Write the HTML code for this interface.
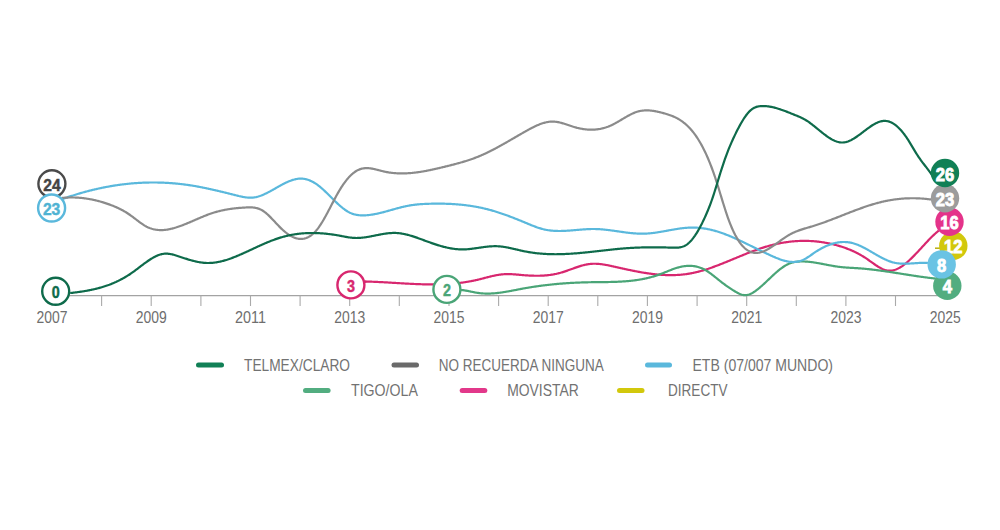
<!DOCTYPE html>
<html><head><meta charset="utf-8"><style>
html,body{margin:0;padding:0;background:#fff;width:1000px;height:530px;overflow:hidden}
svg{display:block}
.ln{fill:none;stroke-width:2.2;stroke-linecap:round;stroke-linejoin:round}
.yr{font-family:"Liberation Sans",sans-serif;font-size:16.8px;fill:#6e6e6e}
.lg{font-family:"Liberation Sans",sans-serif;font-size:16.4px;fill:#727272}
.lf{font-size:18px!important}
.lo{stroke-width:0.45px!important}
.lb{font-family:"Liberation Sans",sans-serif;font-size:17px;font-weight:bold;stroke-width:0.9px;paint-order:stroke}
</style></head><body>
<svg width="1000" height="530" viewBox="0 0 1000 530">
<line x1="52" y1="295.6" x2="944" y2="295.6" stroke="#a3a3a3" stroke-width="1.3"/>
<line x1="52.0" y1="295.6" x2="52.0" y2="306" stroke="#aaaaaa" stroke-width="1.1"/>
<line x1="101.6" y1="295.6" x2="101.6" y2="306" stroke="#aaaaaa" stroke-width="1.1"/>
<line x1="151.2" y1="295.6" x2="151.2" y2="306" stroke="#aaaaaa" stroke-width="1.1"/>
<line x1="200.9" y1="295.6" x2="200.9" y2="306" stroke="#aaaaaa" stroke-width="1.1"/>
<line x1="250.5" y1="295.6" x2="250.5" y2="306" stroke="#aaaaaa" stroke-width="1.1"/>
<line x1="300.1" y1="295.6" x2="300.1" y2="306" stroke="#aaaaaa" stroke-width="1.1"/>
<line x1="349.7" y1="295.6" x2="349.7" y2="306" stroke="#aaaaaa" stroke-width="1.1"/>
<line x1="399.3" y1="295.6" x2="399.3" y2="306" stroke="#aaaaaa" stroke-width="1.1"/>
<line x1="449.0" y1="295.6" x2="449.0" y2="306" stroke="#aaaaaa" stroke-width="1.1"/>
<line x1="498.6" y1="295.6" x2="498.6" y2="306" stroke="#aaaaaa" stroke-width="1.1"/>
<line x1="548.2" y1="295.6" x2="548.2" y2="306" stroke="#aaaaaa" stroke-width="1.1"/>
<line x1="597.8" y1="295.6" x2="597.8" y2="306" stroke="#aaaaaa" stroke-width="1.1"/>
<line x1="647.4" y1="295.6" x2="647.4" y2="306" stroke="#aaaaaa" stroke-width="1.1"/>
<line x1="697.1" y1="295.6" x2="697.1" y2="306" stroke="#aaaaaa" stroke-width="1.1"/>
<line x1="746.7" y1="295.6" x2="746.7" y2="306" stroke="#aaaaaa" stroke-width="1.1"/>
<line x1="796.3" y1="295.6" x2="796.3" y2="306" stroke="#aaaaaa" stroke-width="1.1"/>
<line x1="845.9" y1="295.6" x2="845.9" y2="306" stroke="#aaaaaa" stroke-width="1.1"/>
<line x1="895.5" y1="295.6" x2="895.5" y2="306" stroke="#aaaaaa" stroke-width="1.1"/>
<text x="52.0" y="322.6" text-anchor="middle" class="yr" textLength="31" lengthAdjust="spacingAndGlyphs">2007</text>
<text x="151.2" y="322.6" text-anchor="middle" class="yr" textLength="31" lengthAdjust="spacingAndGlyphs">2009</text>
<text x="250.5" y="322.6" text-anchor="middle" class="yr" textLength="31" lengthAdjust="spacingAndGlyphs">2011</text>
<text x="349.7" y="322.6" text-anchor="middle" class="yr" textLength="31" lengthAdjust="spacingAndGlyphs">2013</text>
<text x="449.0" y="322.6" text-anchor="middle" class="yr" textLength="31" lengthAdjust="spacingAndGlyphs">2015</text>
<text x="548.2" y="322.6" text-anchor="middle" class="yr" textLength="31" lengthAdjust="spacingAndGlyphs">2017</text>
<text x="647.4" y="322.6" text-anchor="middle" class="yr" textLength="31" lengthAdjust="spacingAndGlyphs">2019</text>
<text x="746.7" y="322.6" text-anchor="middle" class="yr" textLength="31" lengthAdjust="spacingAndGlyphs">2021</text>
<text x="845.9" y="322.6" text-anchor="middle" class="yr" textLength="31" lengthAdjust="spacingAndGlyphs">2023</text>
<text x="945.2" y="322.6" text-anchor="middle" class="yr" textLength="31" lengthAdjust="spacingAndGlyphs">2025</text>
<path d="M351.0 284.0 L365.6 281.6" stroke="#d8276f" class="ln"/>
<path d="M365.60 281.54 L366.35 281.55 L367.10 281.57 L367.85 281.59 L368.60 281.61 L369.35 281.63 L370.10 281.66 L370.85 281.68 L371.60 281.71 L372.35 281.74 L373.10 281.77 L373.85 281.80 L374.60 281.83 L375.35 281.86 L376.10 281.89 L376.85 281.92 L377.60 281.96 L378.35 281.99 L379.10 282.03 L379.85 282.07 L380.60 282.10 L381.35 282.14 L382.10 282.18 L382.85 282.22 L383.60 282.26 L384.35 282.30 L385.10 282.34 L385.85 282.39 L386.60 282.43 L387.35 282.47 L388.10 282.51 L388.85 282.56 L389.60 282.60 L390.35 282.65 L391.10 282.69 L391.85 282.73 L392.60 282.78 L393.35 282.82 L394.10 282.87 L394.85 282.91 L395.60 282.96 L396.35 283.00 L397.10 283.05 L397.85 283.09 L398.60 283.14 L399.35 283.18 L400.10 283.23 L400.85 283.27 L401.60 283.32 L402.35 283.36 L403.10 283.40 L403.85 283.45 L404.60 283.49 L405.35 283.53 L406.10 283.57 L406.85 283.61 L407.60 283.65 L408.35 283.69 L409.10 283.73 L409.85 283.77 L410.60 283.81 L411.35 283.85 L412.10 283.88 L412.85 283.92 L413.60 283.95 L414.35 283.99 L415.10 284.02 L415.85 284.05 L416.60 284.08 L417.35 284.11 L418.10 284.14 L418.85 284.17 L419.60 284.19 L420.35 284.22 L421.10 284.24 L421.85 284.26 L422.60 284.28 L423.35 284.30 L424.10 284.32 L424.85 284.34 L425.60 284.36 L426.35 284.37 L427.10 284.38 L427.85 284.39 L428.60 284.40 L429.35 284.41 L430.10 284.42 L430.85 284.42 L431.60 284.42 L432.35 284.43 L433.10 284.42 L433.85 284.42 L434.60 284.42 L435.35 284.41 L436.10 284.40 L436.85 284.39 L437.60 284.38 L438.35 284.36 L439.10 284.35 L439.85 284.33 L440.60 284.31 L441.35 284.28 L442.10 284.26 L442.85 284.23 L443.60 284.20 L444.35 284.17 L445.10 284.13 L445.85 284.09 L446.60 284.05 L447.35 284.01 L448.10 283.97 L448.85 283.92 L449.60 283.87 L450.35 283.82 L451.10 283.76 L451.85 283.70 L452.60 283.64 L453.35 283.58 L454.10 283.51 L454.85 283.44 L455.60 283.37 L456.35 283.29 L457.10 283.21 L457.85 283.13 L458.60 283.05 L459.35 282.96 L460.10 282.87 L460.85 282.77 L461.60 282.68 L462.35 282.58 L463.10 282.47 L463.85 282.36 L464.60 282.25 L465.35 282.14 L466.10 282.02 L466.85 281.90 L467.60 281.78 L468.35 281.65 L469.10 281.52 L469.85 281.38 L470.60 281.24 L471.35 281.10 L472.10 280.95 L472.85 280.80 L473.60 280.65 L474.35 280.49 L475.10 280.33 L475.85 280.16 L476.60 279.99 L477.35 279.82 L478.10 279.64 L478.85 279.46 L479.60 279.28 L480.35 279.09 L481.10 278.90 L481.85 278.71 L482.60 278.51 L483.35 278.32 L484.10 278.12 L484.85 277.93 L485.60 277.73 L486.35 277.54 L487.10 277.34 L487.85 277.15 L488.60 276.96 L489.35 276.77 L490.10 276.59 L490.85 276.40 L491.60 276.23 L492.35 276.05 L493.10 275.88 L493.85 275.72 L494.60 275.56 L495.35 275.41 L496.10 275.26 L496.85 275.12 L497.60 274.99 L498.35 274.86 L499.10 274.75 L499.85 274.64 L500.60 274.54 L501.35 274.45 L502.10 274.37 L502.85 274.30 L503.60 274.24 L504.35 274.20 L505.10 274.16 L505.85 274.13 L506.60 274.12 L507.35 274.11 L508.10 274.11 L508.85 274.12 L509.60 274.13 L510.35 274.16 L511.10 274.19 L511.85 274.22 L512.60 274.26 L513.35 274.31 L514.10 274.36 L514.85 274.41 L515.60 274.47 L516.35 274.53 L517.10 274.59 L517.85 274.66 L518.60 274.72 L519.35 274.79 L520.10 274.85 L520.85 274.92 L521.60 274.99 L522.35 275.05 L523.10 275.11 L523.85 275.18 L524.60 275.23 L525.35 275.29 L526.10 275.34 L526.85 275.40 L527.60 275.44 L528.35 275.49 L529.10 275.53 L529.85 275.57 L530.60 275.61 L531.35 275.64 L532.10 275.67 L532.85 275.69 L533.60 275.71 L534.35 275.73 L535.10 275.74 L535.85 275.75 L536.60 275.76 L537.35 275.76 L538.10 275.75 L538.85 275.74 L539.60 275.73 L540.35 275.71 L541.10 275.68 L541.85 275.65 L542.60 275.61 L543.35 275.57 L544.10 275.53 L544.85 275.47 L545.60 275.41 L546.35 275.35 L547.10 275.28 L547.85 275.20 L548.60 275.12 L549.35 275.02 L550.10 274.93 L550.85 274.82 L551.60 274.71 L552.35 274.59 L553.10 274.47 L553.85 274.33 L554.60 274.19 L555.35 274.04 L556.10 273.89 L556.85 273.72 L557.60 273.55 L558.35 273.37 L559.10 273.18 L559.85 272.98 L560.60 272.77 L561.35 272.56 L562.10 272.34 L562.85 272.11 L563.60 271.87 L564.35 271.62 L565.10 271.37 L565.85 271.12 L566.60 270.86 L567.35 270.60 L568.10 270.33 L568.85 270.06 L569.60 269.79 L570.35 269.52 L571.10 269.24 L571.85 268.97 L572.60 268.70 L573.35 268.42 L574.10 268.15 L574.85 267.89 L575.60 267.62 L576.35 267.36 L577.10 267.10 L577.85 266.85 L578.60 266.60 L579.35 266.36 L580.10 266.13 L580.85 265.90 L581.60 265.68 L582.35 265.47 L583.10 265.27 L583.85 265.08 L584.60 264.90 L585.35 264.73 L586.10 264.57 L586.85 264.43 L587.60 264.30 L588.35 264.18 L589.10 264.07 L589.85 263.98 L590.60 263.91 L591.35 263.85 L592.10 263.80 L592.85 263.77 L593.60 263.75 L594.35 263.74 L595.10 263.74 L595.85 263.76 L596.60 263.79 L597.35 263.83 L598.10 263.87 L598.85 263.93 L599.60 264.00 L600.35 264.08 L601.10 264.17 L601.85 264.26 L602.60 264.36 L603.35 264.47 L604.10 264.59 L604.85 264.72 L605.60 264.85 L606.35 264.98 L607.10 265.12 L607.85 265.27 L608.60 265.42 L609.35 265.57 L610.10 265.73 L610.85 265.89 L611.60 266.05 L612.35 266.22 L613.10 266.39 L613.85 266.56 L614.60 266.73 L615.35 266.90 L616.10 267.07 L616.85 267.24 L617.60 267.41 L618.35 267.57 L619.10 267.74 L619.85 267.91 L620.60 268.08 L621.35 268.25 L622.10 268.41 L622.85 268.58 L623.60 268.75 L624.35 268.91 L625.10 269.07 L625.85 269.24 L626.60 269.40 L627.35 269.56 L628.10 269.72 L628.85 269.88 L629.60 270.03 L630.35 270.19 L631.10 270.35 L631.85 270.50 L632.60 270.65 L633.35 270.80 L634.10 270.95 L634.85 271.10 L635.60 271.24 L636.35 271.39 L637.10 271.53 L637.85 271.67 L638.60 271.81 L639.35 271.94 L640.10 272.08 L640.85 272.21 L641.60 272.34 L642.35 272.47 L643.10 272.59 L643.85 272.72 L644.60 272.84 L645.35 272.96 L646.10 273.07 L646.85 273.19 L647.60 273.30 L648.35 273.41 L649.10 273.51 L649.85 273.61 L650.60 273.71 L651.35 273.81 L652.10 273.90 L652.85 274.00 L653.60 274.08 L654.35 274.17 L655.10 274.25 L655.85 274.33 L656.60 274.40 L657.35 274.48 L658.10 274.55 L658.85 274.61 L659.60 274.67 L660.35 274.73 L661.10 274.78 L661.85 274.83 L662.60 274.88 L663.35 274.92 L664.10 274.96 L664.85 275.00 L665.60 275.03 L666.35 275.06 L667.10 275.08 L667.85 275.10 L668.60 275.11 L669.35 275.12 L670.10 275.13 L670.85 275.13 L671.60 275.13 L672.35 275.12 L673.10 275.11 L673.85 275.09 L674.60 275.07 L675.35 275.05 L676.10 275.02 L676.85 274.98 L677.60 274.94 L678.35 274.90 L679.10 274.85 L679.85 274.79 L680.60 274.73 L681.35 274.66 L682.10 274.59 L682.85 274.52 L683.60 274.43 L684.35 274.35 L685.10 274.25 L685.85 274.16 L686.60 274.05 L687.35 273.94 L688.10 273.83 L688.85 273.71 L689.60 273.58 L690.35 273.45 L691.10 273.31 L691.85 273.16 L692.60 273.01 L693.35 272.86 L694.10 272.70 L694.85 272.53 L695.60 272.36 L696.35 272.18 L697.10 272.00 L697.85 271.81 L698.60 271.62 L699.35 271.42 L700.10 271.22 L700.85 271.01 L701.60 270.80 L702.35 270.58 L703.10 270.36 L703.85 270.14 L704.60 269.91 L705.35 269.68 L706.10 269.44 L706.85 269.20 L707.60 268.95 L708.35 268.71 L709.10 268.45 L709.85 268.20 L710.60 267.94 L711.35 267.68 L712.10 267.41 L712.85 267.15 L713.60 266.88 L714.35 266.60 L715.10 266.33 L715.85 266.05 L716.60 265.77 L717.35 265.48 L718.10 265.20 L718.85 264.91 L719.60 264.62 L720.35 264.33 L721.10 264.03 L721.85 263.74 L722.60 263.44 L723.35 263.14 L724.10 262.84 L724.85 262.53 L725.60 262.23 L726.35 261.93 L727.10 261.62 L727.85 261.31 L728.60 261.00 L729.35 260.69 L730.10 260.39 L730.85 260.07 L731.60 259.76 L732.35 259.45 L733.10 259.14 L733.85 258.83 L734.60 258.52 L735.35 258.21 L736.10 257.89 L736.85 257.58 L737.60 257.27 L738.35 256.96 L739.10 256.65 L739.85 256.34 L740.60 256.03 L741.35 255.72 L742.10 255.42 L742.85 255.11 L743.60 254.80 L744.35 254.50 L745.10 254.20 L745.85 253.90 L746.60 253.60 L747.35 253.30 L748.10 253.00 L748.85 252.71 L749.60 252.42 L750.35 252.12 L751.10 251.84 L751.85 251.55 L752.60 251.27 L753.35 250.98 L754.10 250.70 L754.85 250.43 L755.60 250.15 L756.35 249.88 L757.10 249.62 L757.85 249.35 L758.60 249.09 L759.35 248.83 L760.10 248.57 L760.85 248.32 L761.60 248.07 L762.35 247.83 L763.10 247.59 L763.85 247.35 L764.60 247.12 L765.35 246.89 L766.10 246.66 L766.85 246.44 L767.60 246.23 L768.35 246.01 L769.10 245.80 L769.85 245.60 L770.60 245.40 L771.35 245.20 L772.10 245.01 L772.85 244.82 L773.60 244.64 L774.35 244.46 L775.10 244.29 L775.85 244.12 L776.60 243.95 L777.35 243.79 L778.10 243.63 L778.85 243.48 L779.60 243.33 L780.35 243.18 L781.10 243.04 L781.85 242.91 L782.60 242.77 L783.35 242.65 L784.10 242.52 L784.85 242.41 L785.60 242.29 L786.35 242.18 L787.10 242.07 L787.85 241.97 L788.60 241.88 L789.35 241.78 L790.10 241.70 L790.85 241.61 L791.60 241.53 L792.35 241.46 L793.10 241.39 L793.85 241.32 L794.60 241.26 L795.35 241.20 L796.10 241.15 L796.85 241.10 L797.60 241.06 L798.35 241.02 L799.10 240.99 L799.85 240.96 L800.60 240.93 L801.35 240.91 L802.10 240.90 L802.85 240.88 L803.60 240.88 L804.35 240.87 L805.10 240.88 L805.85 240.88 L806.60 240.90 L807.35 240.91 L808.10 240.93 L808.85 240.96 L809.60 240.99 L810.35 241.02 L811.10 241.06 L811.85 241.11 L812.60 241.15 L813.35 241.21 L814.10 241.27 L814.85 241.33 L815.60 241.40 L816.35 241.47 L817.10 241.55 L817.85 241.63 L818.60 241.71 L819.35 241.80 L820.10 241.90 L820.85 242.00 L821.60 242.11 L822.35 242.22 L823.10 242.33 L823.85 242.45 L824.60 242.58 L825.35 242.71 L826.10 242.84 L826.85 242.98 L827.60 243.13 L828.35 243.27 L829.10 243.43 L829.85 243.59 L830.60 243.75 L831.35 243.92 L832.10 244.09 L832.85 244.27 L833.60 244.46 L834.35 244.64 L835.10 244.84 L835.85 245.04 L836.60 245.24 L837.35 245.45 L838.10 245.66 L838.85 245.88 L839.60 246.10 L840.35 246.33 L841.10 246.56 L841.85 246.80 L842.60 247.05 L843.35 247.30 L844.10 247.55 L844.85 247.81 L845.60 248.08 L846.35 248.35 L847.10 248.63 L847.85 248.92 L848.60 249.21 L849.35 249.51 L850.10 249.82 L850.85 250.13 L851.60 250.46 L852.35 250.79 L853.10 251.12 L853.85 251.47 L854.60 251.82 L855.35 252.18 L856.10 252.55 L856.85 252.93 L857.60 253.32 L858.35 253.71 L859.10 254.12 L859.85 254.53 L860.60 254.95 L861.35 255.39 L862.10 255.83 L862.85 256.28 L863.60 256.74 L864.35 257.21 L865.10 257.70 L865.85 258.19 L866.60 258.69 L867.35 259.21 L868.10 259.73 L868.85 260.26 L869.60 260.79 L870.35 261.33 L871.10 261.87 L871.85 262.41 L872.60 262.94 L873.35 263.48 L874.10 264.00 L874.85 264.52 L875.60 265.04 L876.35 265.54 L877.10 266.02 L877.85 266.50 L878.60 266.95 L879.35 267.39 L880.10 267.81 L880.85 268.21 L881.60 268.59 L882.35 268.94 L883.10 269.26 L883.85 269.55 L884.60 269.82 L885.35 270.05 L886.10 270.25 L886.85 270.42 L887.60 270.54 L888.35 270.63 L889.10 270.68 L889.85 270.69 L890.60 270.66 L891.35 270.59 L892.10 270.49 L892.85 270.36 L893.60 270.19 L894.35 269.98 L895.10 269.75 L895.85 269.48 L896.60 269.18 L897.35 268.85 L898.10 268.50 L898.85 268.11 L899.60 267.70 L900.35 267.26 L901.10 266.80 L901.85 266.31 L902.60 265.80 L903.35 265.26 L904.10 264.71 L904.85 264.13 L905.60 263.53 L906.35 262.91 L907.10 262.28 L907.85 261.63 L908.60 260.96 L909.35 260.27 L910.10 259.57 L910.85 258.86 L911.60 258.13 L912.35 257.39 L913.10 256.64 L913.85 255.88 L914.60 255.11 L915.35 254.33 L916.10 253.55 L916.85 252.75 L917.60 251.96 L918.35 251.15 L919.10 250.34 L919.85 249.53 L920.60 248.72 L921.35 247.90 L922.10 247.08 L922.85 246.27 L923.60 245.45 L924.35 244.64 L925.10 243.83 L925.85 243.02 L926.60 242.22 L927.35 241.42 L928.10 240.63 L928.85 239.85 L929.60 239.07 L930.35 238.31 L931.10 237.55 L931.85 236.80 L932.60 236.07 L933.35 235.35 L934.10 234.64 L934.85 233.95 L935.60 233.27 L936.35 232.61 L937.10 231.96 L937.85 231.33 L938.00 231.21" stroke="#d8276f" class="ln"/>
<path d="M455.00 290.18 L455.75 290.08 L456.50 290.00 L457.25 289.95 L458.00 289.92 L458.75 289.91 L459.50 289.92 L460.25 289.94 L461.00 289.99 L461.75 290.05 L462.50 290.12 L463.25 290.21 L464.00 290.31 L464.75 290.42 L465.50 290.54 L466.25 290.66 L467.00 290.80 L467.75 290.94 L468.50 291.09 L469.25 291.24 L470.00 291.40 L470.75 291.55 L471.50 291.71 L472.25 291.87 L473.00 292.02 L473.75 292.17 L474.50 292.32 L475.25 292.47 L476.00 292.60 L476.75 292.73 L477.50 292.85 L478.25 292.96 L479.00 293.07 L479.75 293.16 L480.50 293.24 L481.25 293.31 L482.00 293.38 L482.75 293.43 L483.50 293.48 L484.25 293.52 L485.00 293.54 L485.75 293.57 L486.50 293.58 L487.25 293.58 L488.00 293.58 L488.75 293.57 L489.50 293.55 L490.25 293.53 L491.00 293.50 L491.75 293.46 L492.50 293.42 L493.25 293.37 L494.00 293.31 L494.75 293.25 L495.50 293.19 L496.25 293.11 L497.00 293.04 L497.75 292.95 L498.50 292.86 L499.25 292.77 L500.00 292.68 L500.75 292.57 L501.50 292.47 L502.25 292.36 L503.00 292.25 L503.75 292.13 L504.50 292.01 L505.25 291.89 L506.00 291.76 L506.75 291.64 L507.50 291.51 L508.25 291.37 L509.00 291.24 L509.75 291.10 L510.50 290.96 L511.25 290.82 L512.00 290.68 L512.75 290.54 L513.50 290.39 L514.25 290.25 L515.00 290.10 L515.75 289.96 L516.50 289.81 L517.25 289.67 L518.00 289.52 L518.75 289.38 L519.50 289.23 L520.25 289.09 L521.00 288.95 L521.75 288.81 L522.50 288.67 L523.25 288.53 L524.00 288.39 L524.75 288.26 L525.50 288.12 L526.25 287.99 L527.00 287.86 L527.75 287.74 L528.50 287.61 L529.25 287.48 L530.00 287.36 L530.75 287.24 L531.50 287.12 L532.25 287.00 L533.00 286.89 L533.75 286.77 L534.50 286.66 L535.25 286.55 L536.00 286.43 L536.75 286.33 L537.50 286.22 L538.25 286.11 L539.00 286.01 L539.75 285.91 L540.50 285.81 L541.25 285.71 L542.00 285.61 L542.75 285.51 L543.50 285.42 L544.25 285.33 L545.00 285.24 L545.75 285.15 L546.50 285.06 L547.25 284.97 L548.00 284.88 L548.75 284.80 L549.50 284.72 L550.25 284.64 L551.00 284.56 L551.75 284.48 L552.50 284.40 L553.25 284.33 L554.00 284.25 L554.75 284.18 L555.50 284.11 L556.25 284.04 L557.00 283.97 L557.75 283.90 L558.50 283.84 L559.25 283.77 L560.00 283.71 L560.75 283.65 L561.50 283.59 L562.25 283.53 L563.00 283.47 L563.75 283.42 L564.50 283.36 L565.25 283.31 L566.00 283.26 L566.75 283.21 L567.50 283.16 L568.25 283.11 L569.00 283.06 L569.75 283.02 L570.50 282.97 L571.25 282.93 L572.00 282.89 L572.75 282.85 L573.50 282.81 L574.25 282.77 L575.00 282.73 L575.75 282.70 L576.50 282.66 L577.25 282.63 L578.00 282.60 L578.75 282.57 L579.50 282.54 L580.25 282.51 L581.00 282.48 L581.75 282.46 L582.50 282.43 L583.25 282.41 L584.00 282.38 L584.75 282.36 L585.50 282.34 L586.25 282.32 L587.00 282.30 L587.75 282.29 L588.50 282.27 L589.25 282.26 L590.00 282.24 L590.75 282.23 L591.50 282.22 L592.25 282.21 L593.00 282.20 L593.75 282.19 L594.50 282.18 L595.25 282.17 L596.00 282.16 L596.75 282.15 L597.50 282.15 L598.25 282.14 L599.00 282.13 L599.75 282.13 L600.50 282.12 L601.25 282.11 L602.00 282.10 L602.75 282.10 L603.50 282.09 L604.25 282.08 L605.00 282.07 L605.75 282.06 L606.50 282.05 L607.25 282.04 L608.00 282.03 L608.75 282.01 L609.50 282.00 L610.25 281.98 L611.00 281.97 L611.75 281.95 L612.50 281.93 L613.25 281.91 L614.00 281.89 L614.75 281.86 L615.50 281.84 L616.25 281.81 L617.00 281.78 L617.75 281.75 L618.50 281.72 L619.25 281.68 L620.00 281.65 L620.75 281.61 L621.50 281.56 L622.25 281.52 L623.00 281.47 L623.75 281.42 L624.50 281.37 L625.25 281.32 L626.00 281.26 L626.75 281.20 L627.50 281.13 L628.25 281.07 L629.00 281.00 L629.75 280.92 L630.50 280.85 L631.25 280.77 L632.00 280.68 L632.75 280.60 L633.50 280.50 L634.25 280.41 L635.00 280.31 L635.75 280.21 L636.50 280.10 L637.25 279.99 L638.00 279.88 L638.75 279.76 L639.50 279.64 L640.25 279.51 L641.00 279.38 L641.75 279.24 L642.50 279.10 L643.25 278.95 L644.00 278.80 L644.75 278.64 L645.50 278.48 L646.25 278.32 L647.00 278.15 L647.75 277.97 L648.50 277.79 L649.25 277.60 L650.00 277.41 L650.75 277.21 L651.50 277.01 L652.25 276.80 L653.00 276.58 L653.75 276.36 L654.50 276.13 L655.25 275.90 L656.00 275.66 L656.75 275.42 L657.50 275.16 L658.25 274.91 L659.00 274.64 L659.75 274.37 L660.50 274.09 L661.25 273.81 L662.00 273.52 L662.75 273.22 L663.50 272.92 L664.25 272.62 L665.00 272.32 L665.75 272.01 L666.50 271.71 L667.25 271.40 L668.00 271.10 L668.75 270.80 L669.50 270.50 L670.25 270.20 L671.00 269.91 L671.75 269.62 L672.50 269.34 L673.25 269.06 L674.00 268.80 L674.75 268.54 L675.50 268.29 L676.25 268.05 L677.00 267.82 L677.75 267.60 L678.50 267.39 L679.25 267.20 L680.00 267.01 L680.75 266.84 L681.50 266.68 L682.25 266.53 L683.00 266.40 L683.75 266.28 L684.50 266.17 L685.25 266.08 L686.00 266.00 L686.75 265.93 L687.50 265.89 L688.25 265.85 L689.00 265.84 L689.75 265.83 L690.50 265.85 L691.25 265.88 L692.00 265.93 L692.75 266.00 L693.50 266.08 L694.25 266.18 L695.00 266.31 L695.75 266.45 L696.50 266.61 L697.25 266.79 L698.00 266.99 L698.75 267.21 L699.50 267.45 L700.25 267.71 L701.00 267.99 L701.75 268.29 L702.50 268.62 L703.25 268.97 L704.00 269.34 L704.75 269.74 L705.50 270.16 L706.25 270.60 L707.00 271.06 L707.75 271.54 L708.50 272.04 L709.25 272.56 L710.00 273.10 L710.75 273.64 L711.50 274.20 L712.25 274.77 L713.00 275.35 L713.75 275.94 L714.50 276.54 L715.25 277.14 L716.00 277.74 L716.75 278.34 L717.50 278.95 L718.25 279.55 L719.00 280.15 L719.75 280.75 L720.50 281.35 L721.25 281.93 L722.00 282.51 L722.75 283.08 L723.50 283.65 L724.25 284.21 L725.00 284.76 L725.75 285.31 L726.50 285.85 L727.25 286.38 L728.00 286.90 L728.75 287.42 L729.50 287.93 L730.25 288.43 L731.00 288.92 L731.75 289.41 L732.50 289.88 L733.25 290.35 L734.00 290.81 L734.75 291.26 L735.50 291.71 L736.25 292.14 L737.00 292.56 L737.75 292.96 L738.50 293.34 L739.25 293.70 L740.00 294.03 L740.75 294.32 L741.50 294.58 L742.25 294.79 L743.00 294.96 L743.75 295.08 L744.50 295.15 L745.25 295.16 L746.00 295.12 L746.75 295.03 L747.50 294.89 L748.25 294.70 L749.00 294.47 L749.75 294.20 L750.50 293.88 L751.25 293.53 L752.00 293.15 L752.75 292.73 L753.50 292.28 L754.25 291.80 L755.00 291.29 L755.75 290.76 L756.50 290.21 L757.25 289.63 L758.00 289.04 L758.75 288.44 L759.50 287.81 L760.25 287.18 L761.00 286.53 L761.75 285.87 L762.50 285.20 L763.25 284.52 L764.00 283.83 L764.75 283.14 L765.50 282.44 L766.25 281.74 L767.00 281.03 L767.75 280.32 L768.50 279.60 L769.25 278.89 L770.00 278.18 L770.75 277.47 L771.50 276.76 L772.25 276.05 L773.00 275.36 L773.75 274.66 L774.50 273.98 L775.25 273.30 L776.00 272.63 L776.75 271.98 L777.50 271.33 L778.25 270.70 L779.00 270.08 L779.75 269.48 L780.50 268.89 L781.25 268.32 L782.00 267.77 L782.75 267.24 L783.50 266.73 L784.25 266.24 L785.00 265.77 L785.75 265.33 L786.50 264.91 L787.25 264.52 L788.00 264.16 L788.75 263.82 L789.50 263.51 L790.25 263.23 L791.00 262.97 L791.75 262.74 L792.50 262.53 L793.25 262.34 L794.00 262.18 L794.75 262.03 L795.50 261.91 L796.25 261.80 L797.00 261.71 L797.75 261.63 L798.50 261.57 L799.25 261.53 L800.00 261.50 L800.75 261.47 L801.50 261.46 L802.25 261.46 L803.00 261.47 L803.75 261.49 L804.50 261.51 L805.25 261.55 L806.00 261.59 L806.75 261.64 L807.50 261.70 L808.25 261.76 L809.00 261.83 L809.75 261.91 L810.50 262.00 L811.25 262.09 L812.00 262.18 L812.75 262.28 L813.50 262.39 L814.25 262.50 L815.00 262.61 L815.75 262.73 L816.50 262.86 L817.25 262.98 L818.00 263.11 L818.75 263.25 L819.50 263.38 L820.25 263.52 L821.00 263.66 L821.75 263.80 L822.50 263.94 L823.25 264.09 L824.00 264.23 L824.75 264.38 L825.50 264.52 L826.25 264.67 L827.00 264.81 L827.75 264.96 L828.50 265.10 L829.25 265.24 L830.00 265.38 L830.75 265.52 L831.50 265.66 L832.25 265.79 L833.00 265.92 L833.75 266.05 L834.50 266.17 L835.25 266.29 L836.00 266.41 L836.75 266.52 L837.50 266.63 L838.25 266.73 L839.00 266.83 L839.75 266.92 L840.50 267.01 L841.25 267.09 L842.00 267.17 L842.75 267.24 L843.50 267.31 L844.25 267.37 L845.00 267.43 L845.75 267.49 L846.50 267.54 L847.25 267.60 L848.00 267.65 L848.75 267.69 L849.50 267.74 L850.25 267.78 L851.00 267.83 L851.75 267.87 L852.50 267.91 L853.25 267.95 L854.00 268.00 L854.75 268.04 L855.50 268.08 L856.25 268.13 L857.00 268.18 L857.75 268.22 L858.50 268.28 L859.25 268.33 L860.00 268.38 L860.75 268.44 L861.50 268.50 L862.25 268.56 L863.00 268.63 L863.75 268.69 L864.50 268.76 L865.25 268.83 L866.00 268.90 L866.75 268.98 L867.50 269.05 L868.25 269.13 L869.00 269.21 L869.75 269.29 L870.50 269.38 L871.25 269.46 L872.00 269.55 L872.75 269.63 L873.50 269.72 L874.25 269.81 L875.00 269.91 L875.75 270.00 L876.50 270.10 L877.25 270.19 L878.00 270.29 L878.75 270.39 L879.50 270.49 L880.25 270.59 L881.00 270.69 L881.75 270.80 L882.50 270.90 L883.25 271.01 L884.00 271.11 L884.75 271.22 L885.50 271.33 L886.25 271.44 L887.00 271.55 L887.75 271.66 L888.50 271.77 L889.25 271.88 L890.00 272.00 L890.75 272.11 L891.50 272.23 L892.25 272.34 L893.00 272.46 L893.75 272.57 L894.50 272.69 L895.25 272.80 L896.00 272.92 L896.75 273.04 L897.50 273.16 L898.25 273.27 L899.00 273.39 L899.75 273.51 L900.50 273.63 L901.25 273.75 L902.00 273.86 L902.75 273.98 L903.50 274.10 L904.25 274.22 L905.00 274.34 L905.75 274.46 L906.50 274.57 L907.25 274.69 L908.00 274.81 L908.75 274.92 L909.50 275.04 L910.25 275.16 L911.00 275.27 L911.75 275.39 L912.50 275.50 L913.25 275.62 L914.00 275.73 L914.75 275.84 L915.50 275.95 L916.25 276.07 L917.00 276.18 L917.75 276.29 L918.50 276.39 L919.25 276.50 L920.00 276.61 L920.75 276.72 L921.50 276.82 L922.25 276.93 L923.00 277.03 L923.75 277.13 L924.50 277.23 L925.25 277.33 L926.00 277.43 L926.75 277.53 L927.50 277.62 L928.25 277.72 L929.00 277.81 L929.75 277.90 L930.50 277.99 L931.25 278.08 L932.00 278.17 L932.75 278.25 L933.50 278.33 L934.25 278.42 L935.00 278.50 L935.75 278.58 L936.00 278.60" stroke="#4aa577" class="ln"/>
<path d="M62.60 199.00 L63.35 198.73 L64.10 198.47 L64.85 198.20 L65.60 197.94 L66.35 197.68 L67.10 197.42 L67.85 197.16 L68.60 196.91 L69.35 196.66 L70.10 196.41 L70.85 196.16 L71.60 195.92 L72.35 195.68 L73.10 195.43 L73.85 195.20 L74.60 194.96 L75.35 194.73 L76.10 194.49 L76.85 194.26 L77.60 194.04 L78.35 193.81 L79.10 193.59 L79.85 193.37 L80.60 193.15 L81.35 192.93 L82.10 192.72 L82.85 192.50 L83.60 192.29 L84.35 192.09 L85.10 191.88 L85.85 191.68 L86.60 191.47 L87.35 191.28 L88.10 191.08 L88.85 190.88 L89.60 190.69 L90.35 190.50 L91.10 190.31 L91.85 190.13 L92.60 189.94 L93.35 189.76 L94.10 189.58 L94.85 189.40 L95.60 189.23 L96.35 189.06 L97.10 188.89 L97.85 188.72 L98.60 188.55 L99.35 188.39 L100.10 188.23 L100.85 188.07 L101.60 187.91 L102.35 187.75 L103.10 187.60 L103.85 187.45 L104.60 187.30 L105.35 187.16 L106.10 187.01 L106.85 186.87 L107.60 186.73 L108.35 186.59 L109.10 186.46 L109.85 186.33 L110.60 186.20 L111.35 186.07 L112.10 185.94 L112.85 185.82 L113.60 185.70 L114.35 185.58 L115.10 185.46 L115.85 185.35 L116.60 185.23 L117.35 185.12 L118.10 185.01 L118.85 184.91 L119.60 184.80 L120.35 184.70 L121.10 184.60 L121.85 184.51 L122.60 184.41 L123.35 184.32 L124.10 184.23 L124.85 184.14 L125.60 184.06 L126.35 183.97 L127.10 183.89 L127.85 183.81 L128.60 183.74 L129.35 183.66 L130.10 183.59 L130.85 183.52 L131.60 183.45 L132.35 183.39 L133.10 183.33 L133.85 183.27 L134.60 183.21 L135.35 183.15 L136.10 183.10 L136.85 183.05 L137.60 183.00 L138.35 182.95 L139.10 182.90 L139.85 182.86 L140.60 182.82 L141.35 182.78 L142.10 182.75 L142.85 182.72 L143.60 182.68 L144.35 182.66 L145.10 182.63 L145.85 182.61 L146.60 182.58 L147.35 182.56 L148.10 182.55 L148.85 182.53 L149.60 182.52 L150.35 182.51 L151.10 182.50 L151.85 182.50 L152.60 182.49 L153.35 182.49 L154.10 182.49 L154.85 182.50 L155.60 182.50 L156.35 182.51 L157.10 182.52 L157.85 182.53 L158.60 182.55 L159.35 182.57 L160.10 182.59 L160.85 182.61 L161.60 182.63 L162.35 182.66 L163.10 182.69 L163.85 182.72 L164.60 182.75 L165.35 182.79 L166.10 182.83 L166.85 182.87 L167.60 182.91 L168.35 182.96 L169.10 183.01 L169.85 183.06 L170.60 183.11 L171.35 183.16 L172.10 183.22 L172.85 183.28 L173.60 183.34 L174.35 183.41 L175.10 183.47 L175.85 183.54 L176.60 183.61 L177.35 183.69 L178.10 183.76 L178.85 183.84 L179.60 183.92 L180.35 184.00 L181.10 184.09 L181.85 184.18 L182.60 184.27 L183.35 184.36 L184.10 184.45 L184.85 184.55 L185.60 184.65 L186.35 184.75 L187.10 184.86 L187.85 184.96 L188.60 185.07 L189.35 185.18 L190.10 185.30 L190.85 185.41 L191.60 185.53 L192.35 185.65 L193.10 185.77 L193.85 185.90 L194.60 186.03 L195.35 186.16 L196.10 186.29 L196.85 186.42 L197.60 186.56 L198.35 186.69 L199.10 186.83 L199.85 186.98 L200.60 187.12 L201.35 187.26 L202.10 187.41 L202.85 187.56 L203.60 187.71 L204.35 187.86 L205.10 188.02 L205.85 188.17 L206.60 188.33 L207.35 188.49 L208.10 188.65 L208.85 188.81 L209.60 188.97 L210.35 189.14 L211.10 189.30 L211.85 189.47 L212.60 189.64 L213.35 189.81 L214.10 189.98 L214.85 190.15 L215.60 190.32 L216.35 190.50 L217.10 190.67 L217.85 190.85 L218.60 191.03 L219.35 191.20 L220.10 191.38 L220.85 191.56 L221.60 191.74 L222.35 191.92 L223.10 192.11 L223.85 192.29 L224.60 192.47 L225.35 192.66 L226.10 192.84 L226.85 193.03 L227.60 193.21 L228.35 193.40 L229.10 193.59 L229.85 193.77 L230.60 193.96 L231.35 194.15 L232.10 194.34 L232.85 194.53 L233.60 194.72 L234.35 194.91 L235.10 195.09 L235.85 195.28 L236.60 195.47 L237.35 195.66 L238.10 195.84 L238.85 196.03 L239.60 196.20 L240.35 196.37 L241.10 196.54 L241.85 196.70 L242.60 196.85 L243.35 196.99 L244.10 197.12 L244.85 197.24 L245.60 197.34 L246.35 197.44 L247.10 197.52 L247.85 197.58 L248.60 197.63 L249.35 197.66 L250.10 197.68 L250.85 197.68 L251.60 197.65 L252.35 197.61 L253.10 197.54 L253.85 197.45 L254.60 197.34 L255.35 197.21 L256.10 197.06 L256.85 196.89 L257.60 196.69 L258.35 196.48 L259.10 196.25 L259.85 196.01 L260.60 195.74 L261.35 195.47 L262.10 195.17 L262.85 194.87 L263.60 194.55 L264.35 194.21 L265.10 193.87 L265.85 193.51 L266.60 193.15 L267.35 192.77 L268.10 192.39 L268.85 192.00 L269.60 191.60 L270.35 191.20 L271.10 190.79 L271.85 190.37 L272.60 189.95 L273.35 189.53 L274.10 189.11 L274.85 188.68 L275.60 188.25 L276.35 187.82 L277.10 187.40 L277.85 186.97 L278.60 186.55 L279.35 186.13 L280.10 185.71 L280.85 185.30 L281.60 184.89 L282.35 184.49 L283.10 184.09 L283.85 183.70 L284.60 183.33 L285.35 182.96 L286.10 182.59 L286.85 182.24 L287.60 181.91 L288.35 181.58 L289.10 181.27 L289.85 180.97 L290.60 180.68 L291.35 180.41 L292.10 180.15 L292.85 179.92 L293.60 179.70 L294.35 179.49 L295.10 179.31 L295.85 179.15 L296.60 179.00 L297.35 178.88 L298.10 178.78 L298.85 178.70 L299.60 178.65 L300.35 178.62 L301.10 178.62 L301.85 178.64 L302.60 178.69 L303.35 178.76 L304.10 178.87 L304.85 179.00 L305.60 179.15 L306.35 179.33 L307.10 179.54 L307.85 179.77 L308.60 180.03 L309.35 180.31 L310.10 180.62 L310.85 180.95 L311.60 181.31 L312.35 181.68 L313.10 182.09 L313.85 182.51 L314.60 182.96 L315.35 183.43 L316.10 183.93 L316.85 184.44 L317.60 184.98 L318.35 185.54 L319.10 186.12 L319.85 186.72 L320.60 187.34 L321.35 187.97 L322.10 188.62 L322.85 189.29 L323.60 189.97 L324.35 190.66 L325.10 191.37 L325.85 192.08 L326.60 192.80 L327.35 193.53 L328.10 194.27 L328.85 195.01 L329.60 195.75 L330.35 196.50 L331.10 197.25 L331.85 198.00 L332.60 198.74 L333.35 199.49 L334.10 200.23 L334.85 200.96 L335.60 201.69 L336.35 202.41 L337.10 203.12 L337.85 203.83 L338.60 204.52 L339.35 205.20 L340.10 205.86 L340.85 206.51 L341.60 207.14 L342.35 207.76 L343.10 208.35 L343.85 208.93 L344.60 209.49 L345.35 210.02 L346.10 210.53 L346.85 211.01 L347.60 211.47 L348.35 211.90 L349.10 212.30 L349.85 212.67 L350.60 213.01 L351.35 213.33 L352.10 213.62 L352.85 213.88 L353.60 214.12 L354.35 214.33 L355.10 214.52 L355.85 214.69 L356.60 214.83 L357.35 214.96 L358.10 215.07 L358.85 215.16 L359.60 215.23 L360.35 215.28 L361.10 215.32 L361.85 215.35 L362.60 215.36 L363.35 215.36 L364.10 215.34 L364.85 215.32 L365.60 215.29 L366.35 215.24 L367.10 215.19 L367.85 215.12 L368.60 215.05 L369.35 214.97 L370.10 214.88 L370.85 214.78 L371.60 214.67 L372.35 214.56 L373.10 214.44 L373.85 214.31 L374.60 214.17 L375.35 214.03 L376.10 213.88 L376.85 213.73 L377.60 213.57 L378.35 213.40 L379.10 213.23 L379.85 213.05 L380.60 212.87 L381.35 212.69 L382.10 212.50 L382.85 212.31 L383.60 212.11 L384.35 211.91 L385.10 211.71 L385.85 211.51 L386.60 211.30 L387.35 211.09 L388.10 210.88 L388.85 210.67 L389.60 210.46 L390.35 210.25 L391.10 210.04 L391.85 209.82 L392.60 209.61 L393.35 209.40 L394.10 209.19 L394.85 208.98 L395.60 208.77 L396.35 208.56 L397.10 208.35 L397.85 208.15 L398.60 207.95 L399.35 207.75 L400.10 207.56 L400.85 207.37 L401.60 207.18 L402.35 206.99 L403.10 206.82 L403.85 206.64 L404.60 206.47 L405.35 206.31 L406.10 206.15 L406.85 205.99 L407.60 205.85 L408.35 205.71 L409.10 205.57 L409.85 205.44 L410.60 205.32 L411.35 205.20 L412.10 205.09 L412.85 204.99 L413.60 204.89 L414.35 204.79 L415.10 204.71 L415.85 204.62 L416.60 204.54 L417.35 204.47 L418.10 204.40 L418.85 204.33 L419.60 204.27 L420.35 204.21 L421.10 204.16 L421.85 204.11 L422.60 204.06 L423.35 204.02 L424.10 203.98 L424.85 203.94 L425.60 203.90 L426.35 203.87 L427.10 203.84 L427.85 203.82 L428.60 203.79 L429.35 203.77 L430.10 203.75 L430.85 203.73 L431.60 203.72 L432.35 203.70 L433.10 203.69 L433.85 203.68 L434.60 203.67 L435.35 203.66 L436.10 203.65 L436.85 203.65 L437.60 203.65 L438.35 203.65 L439.10 203.65 L439.85 203.65 L440.60 203.66 L441.35 203.67 L442.10 203.68 L442.85 203.69 L443.60 203.70 L444.35 203.72 L445.10 203.74 L445.85 203.76 L446.60 203.78 L447.35 203.81 L448.10 203.83 L448.85 203.87 L449.60 203.90 L450.35 203.93 L451.10 203.97 L451.85 204.01 L452.60 204.05 L453.35 204.10 L454.10 204.14 L454.85 204.19 L455.60 204.25 L456.35 204.30 L457.10 204.36 L457.85 204.42 L458.60 204.48 L459.35 204.55 L460.10 204.62 L460.85 204.69 L461.60 204.77 L462.35 204.84 L463.10 204.92 L463.85 205.01 L464.60 205.09 L465.35 205.18 L466.10 205.27 L466.85 205.37 L467.60 205.47 L468.35 205.57 L469.10 205.67 L469.85 205.78 L470.60 205.89 L471.35 206.00 L472.10 206.12 L472.85 206.24 L473.60 206.36 L474.35 206.49 L475.10 206.62 L475.85 206.76 L476.60 206.89 L477.35 207.03 L478.10 207.18 L478.85 207.32 L479.60 207.47 L480.35 207.63 L481.10 207.79 L481.85 207.95 L482.60 208.11 L483.35 208.28 L484.10 208.45 L484.85 208.63 L485.60 208.81 L486.35 208.99 L487.10 209.18 L487.85 209.37 L488.60 209.57 L489.35 209.77 L490.10 209.97 L490.85 210.17 L491.60 210.39 L492.35 210.60 L493.10 210.82 L493.85 211.04 L494.60 211.26 L495.35 211.49 L496.10 211.72 L496.85 211.96 L497.60 212.20 L498.35 212.44 L499.10 212.68 L499.85 212.93 L500.60 213.18 L501.35 213.43 L502.10 213.69 L502.85 213.95 L503.60 214.21 L504.35 214.47 L505.10 214.74 L505.85 215.01 L506.60 215.28 L507.35 215.56 L508.10 215.83 L508.85 216.11 L509.60 216.39 L510.35 216.67 L511.10 216.96 L511.85 217.25 L512.60 217.54 L513.35 217.83 L514.10 218.12 L514.85 218.41 L515.60 218.71 L516.35 219.01 L517.10 219.31 L517.85 219.61 L518.60 219.91 L519.35 220.21 L520.10 220.52 L520.85 220.83 L521.60 221.13 L522.35 221.44 L523.10 221.75 L523.85 222.06 L524.60 222.37 L525.35 222.68 L526.10 223.00 L526.85 223.31 L527.60 223.62 L528.35 223.93 L529.10 224.24 L529.85 224.55 L530.60 224.86 L531.35 225.16 L532.10 225.46 L532.85 225.76 L533.60 226.05 L534.35 226.34 L535.10 226.62 L535.85 226.90 L536.60 227.17 L537.35 227.43 L538.10 227.68 L538.85 227.93 L539.60 228.17 L540.35 228.40 L541.10 228.62 L541.85 228.83 L542.60 229.04 L543.35 229.23 L544.10 229.41 L544.85 229.57 L545.60 229.73 L546.35 229.88 L547.10 230.01 L547.85 230.14 L548.60 230.25 L549.35 230.36 L550.10 230.46 L550.85 230.55 L551.60 230.63 L552.35 230.70 L553.10 230.76 L553.85 230.81 L554.60 230.86 L555.35 230.90 L556.10 230.93 L556.85 230.96 L557.60 230.97 L558.35 230.99 L559.10 230.99 L559.85 230.99 L560.60 230.98 L561.35 230.97 L562.10 230.96 L562.85 230.93 L563.60 230.91 L564.35 230.88 L565.10 230.84 L565.85 230.80 L566.60 230.76 L567.35 230.72 L568.10 230.67 L568.85 230.61 L569.60 230.56 L570.35 230.50 L571.10 230.44 L571.85 230.38 L572.60 230.32 L573.35 230.26 L574.10 230.19 L574.85 230.13 L575.60 230.06 L576.35 230.00 L577.10 229.93 L577.85 229.86 L578.60 229.80 L579.35 229.73 L580.10 229.67 L580.85 229.61 L581.60 229.55 L582.35 229.49 L583.10 229.43 L583.85 229.38 L584.60 229.32 L585.35 229.28 L586.10 229.23 L586.85 229.19 L587.60 229.15 L588.35 229.11 L589.10 229.08 L589.85 229.05 L590.60 229.03 L591.35 229.02 L592.10 229.00 L592.85 229.00 L593.60 229.00 L594.35 229.00 L595.10 229.01 L595.85 229.03 L596.60 229.05 L597.35 229.08 L598.10 229.12 L598.85 229.16 L599.60 229.20 L600.35 229.25 L601.10 229.31 L601.85 229.37 L602.60 229.43 L603.35 229.50 L604.10 229.57 L604.85 229.65 L605.60 229.73 L606.35 229.81 L607.10 229.90 L607.85 229.99 L608.60 230.08 L609.35 230.17 L610.10 230.27 L610.85 230.37 L611.60 230.47 L612.35 230.57 L613.10 230.67 L613.85 230.78 L614.60 230.89 L615.35 230.99 L616.10 231.10 L616.85 231.21 L617.60 231.32 L618.35 231.42 L619.10 231.53 L619.85 231.64 L620.60 231.75 L621.35 231.86 L622.10 231.96 L622.85 232.07 L623.60 232.17 L624.35 232.27 L625.10 232.37 L625.85 232.47 L626.60 232.56 L627.35 232.66 L628.10 232.75 L628.85 232.83 L629.60 232.92 L630.35 233.00 L631.10 233.08 L631.85 233.15 L632.60 233.22 L633.35 233.29 L634.10 233.35 L634.85 233.41 L635.60 233.46 L636.35 233.51 L637.10 233.55 L637.85 233.59 L638.60 233.62 L639.35 233.65 L640.10 233.67 L640.85 233.69 L641.60 233.70 L642.35 233.70 L643.10 233.69 L643.85 233.68 L644.60 233.66 L645.35 233.64 L646.10 233.60 L646.85 233.56 L647.60 233.51 L648.35 233.46 L649.10 233.40 L649.85 233.33 L650.60 233.26 L651.35 233.18 L652.10 233.10 L652.85 233.01 L653.60 232.92 L654.35 232.82 L655.10 232.72 L655.85 232.61 L656.60 232.50 L657.35 232.38 L658.10 232.27 L658.85 232.15 L659.60 232.02 L660.35 231.90 L661.10 231.77 L661.85 231.64 L662.60 231.51 L663.35 231.37 L664.10 231.24 L664.85 231.10 L665.60 230.96 L666.35 230.82 L667.10 230.69 L667.85 230.55 L668.60 230.41 L669.35 230.27 L670.10 230.13 L670.85 230.00 L671.60 229.86 L672.35 229.73 L673.10 229.60 L673.85 229.47 L674.60 229.34 L675.35 229.21 L676.10 229.09 L676.85 228.97 L677.60 228.85 L678.35 228.74 L679.10 228.63 L679.85 228.52 L680.60 228.42 L681.35 228.32 L682.10 228.23 L682.85 228.14 L683.60 228.06 L684.35 227.98 L685.10 227.91 L685.85 227.85 L686.60 227.79 L687.35 227.73 L688.10 227.69 L688.85 227.65 L689.60 227.62 L690.35 227.59 L691.10 227.57 L691.85 227.57 L692.60 227.56 L693.35 227.57 L694.10 227.58 L694.85 227.60 L695.60 227.63 L696.35 227.67 L697.10 227.71 L697.85 227.76 L698.60 227.82 L699.35 227.88 L700.10 227.96 L700.85 228.03 L701.60 228.12 L702.35 228.22 L703.10 228.32 L703.85 228.42 L704.60 228.54 L705.35 228.66 L706.10 228.79 L706.85 228.93 L707.60 229.07 L708.35 229.22 L709.10 229.37 L709.85 229.54 L710.60 229.71 L711.35 229.88 L712.10 230.07 L712.85 230.26 L713.60 230.45 L714.35 230.66 L715.10 230.87 L715.85 231.08 L716.60 231.30 L717.35 231.53 L718.10 231.76 L718.85 232.00 L719.60 232.25 L720.35 232.50 L721.10 232.75 L721.85 233.02 L722.60 233.28 L723.35 233.55 L724.10 233.83 L724.85 234.11 L725.60 234.40 L726.35 234.69 L727.10 234.98 L727.85 235.28 L728.60 235.58 L729.35 235.89 L730.10 236.20 L730.85 236.51 L731.60 236.83 L732.35 237.15 L733.10 237.48 L733.85 237.81 L734.60 238.14 L735.35 238.47 L736.10 238.81 L736.85 239.15 L737.60 239.49 L738.35 239.84 L739.10 240.19 L739.85 240.54 L740.60 240.89 L741.35 241.25 L742.10 241.60 L742.85 241.96 L743.60 242.32 L744.35 242.68 L745.10 243.05 L745.85 243.41 L746.60 243.78 L747.35 244.14 L748.10 244.51 L748.85 244.88 L749.60 245.25 L750.35 245.62 L751.10 245.99 L751.85 246.36 L752.60 246.73 L753.35 247.10 L754.10 247.48 L754.85 247.85 L755.60 248.22 L756.35 248.59 L757.10 248.96 L757.85 249.33 L758.60 249.70 L759.35 250.06 L760.10 250.43 L760.85 250.80 L761.60 251.16 L762.35 251.52 L763.10 251.89 L763.85 252.25 L764.60 252.60 L765.35 252.96 L766.10 253.32 L766.85 253.67 L767.60 254.02 L768.35 254.37 L769.10 254.71 L769.85 255.05 L770.60 255.39 L771.35 255.73 L772.10 256.07 L772.85 256.40 L773.60 256.73 L774.35 257.05 L775.10 257.37 L775.85 257.69 L776.60 257.99 L777.35 258.30 L778.10 258.59 L778.85 258.88 L779.60 259.16 L780.35 259.43 L781.10 259.69 L781.85 259.94 L782.60 260.18 L783.35 260.41 L784.10 260.62 L784.85 260.82 L785.60 261.01 L786.35 261.18 L787.10 261.34 L787.85 261.49 L788.60 261.61 L789.35 261.72 L790.10 261.81 L790.85 261.88 L791.60 261.94 L792.35 261.97 L793.10 261.98 L793.85 261.97 L794.60 261.94 L795.35 261.89 L796.10 261.81 L796.85 261.71 L797.60 261.59 L798.35 261.44 L799.10 261.27 L799.85 261.06 L800.60 260.83 L801.35 260.58 L802.10 260.29 L802.85 259.98 L803.60 259.63 L804.35 259.26 L805.10 258.86 L805.85 258.44 L806.60 257.99 L807.35 257.53 L808.10 257.05 L808.85 256.56 L809.60 256.05 L810.35 255.54 L811.10 255.02 L811.85 254.50 L812.60 253.98 L813.35 253.46 L814.10 252.95 L814.85 252.44 L815.60 251.94 L816.35 251.45 L817.10 250.98 L817.85 250.51 L818.60 250.05 L819.35 249.61 L820.10 249.18 L820.85 248.75 L821.60 248.34 L822.35 247.94 L823.10 247.55 L823.85 247.18 L824.60 246.81 L825.35 246.46 L826.10 246.12 L826.85 245.79 L827.60 245.48 L828.35 245.18 L829.10 244.89 L829.85 244.61 L830.60 244.34 L831.35 244.09 L832.10 243.86 L832.85 243.63 L833.60 243.42 L834.35 243.23 L835.10 243.05 L835.85 242.88 L836.60 242.72 L837.35 242.58 L838.10 242.46 L838.85 242.35 L839.60 242.25 L840.35 242.17 L841.10 242.11 L841.85 242.06 L842.60 242.02 L843.35 242.00 L844.10 242.00 L844.85 242.01 L845.60 242.04 L846.35 242.09 L847.10 242.15 L847.85 242.22 L848.60 242.32 L849.35 242.43 L850.10 242.56 L850.85 242.70 L851.60 242.86 L852.35 243.04 L853.10 243.24 L853.85 243.45 L854.60 243.68 L855.35 243.93 L856.10 244.19 L856.85 244.47 L857.60 244.76 L858.35 245.07 L859.10 245.39 L859.85 245.72 L860.60 246.06 L861.35 246.42 L862.10 246.78 L862.85 247.15 L863.60 247.54 L864.35 247.93 L865.10 248.33 L865.85 248.73 L866.60 249.15 L867.35 249.56 L868.10 249.99 L868.85 250.41 L869.60 250.84 L870.35 251.28 L871.10 251.71 L871.85 252.15 L872.60 252.59 L873.35 253.03 L874.10 253.46 L874.85 253.90 L875.60 254.34 L876.35 254.77 L877.10 255.20 L877.85 255.63 L878.60 256.05 L879.35 256.46 L880.10 256.87 L880.85 257.28 L881.60 257.68 L882.35 258.07 L883.10 258.45 L883.85 258.82 L884.60 259.18 L885.35 259.53 L886.10 259.87 L886.85 260.20 L887.60 260.52 L888.35 260.82 L889.10 261.11 L889.85 261.38 L890.60 261.64 L891.35 261.88 L892.10 262.11 L892.85 262.32 L893.60 262.51 L894.35 262.69 L895.10 262.85 L895.85 262.99 L896.60 263.12 L897.35 263.23 L898.10 263.33 L898.85 263.41 L899.60 263.49 L900.35 263.55 L901.10 263.60 L901.85 263.63 L902.60 263.66 L903.35 263.68 L904.10 263.69 L904.85 263.69 L905.60 263.69 L906.35 263.67 L907.10 263.65 L907.85 263.63 L908.60 263.60 L909.35 263.56 L910.10 263.52 L910.85 263.48 L911.60 263.43 L912.35 263.39 L913.10 263.34 L913.85 263.29 L914.60 263.24 L915.35 263.19 L916.10 263.14 L916.85 263.09 L917.60 263.05 L918.35 263.01 L919.10 262.97 L919.85 262.94 L920.60 262.91 L921.35 262.89 L922.10 262.87 L922.85 262.86 L923.60 262.86 L924.35 262.87 L925.10 262.88 L925.85 262.91 L926.60 262.94 L927.10 262.97" stroke="#5ab8dc" class="ln"/>
<path d="M62.60 197.90 L63.35 197.83 L64.10 197.77 L64.85 197.71 L65.60 197.66 L66.35 197.61 L67.10 197.57 L67.85 197.54 L68.60 197.51 L69.35 197.49 L70.10 197.48 L70.85 197.47 L71.60 197.47 L72.35 197.47 L73.10 197.48 L73.85 197.49 L74.60 197.51 L75.35 197.54 L76.10 197.57 L76.85 197.61 L77.60 197.65 L78.35 197.70 L79.10 197.75 L79.85 197.81 L80.60 197.88 L81.35 197.95 L82.10 198.03 L82.85 198.11 L83.60 198.20 L84.35 198.29 L85.10 198.39 L85.85 198.50 L86.60 198.61 L87.35 198.72 L88.10 198.84 L88.85 198.97 L89.60 199.10 L90.35 199.24 L91.10 199.38 L91.85 199.53 L92.60 199.68 L93.35 199.84 L94.10 200.01 L94.85 200.18 L95.60 200.35 L96.35 200.53 L97.10 200.72 L97.85 200.91 L98.60 201.10 L99.35 201.30 L100.10 201.51 L100.85 201.72 L101.60 201.93 L102.35 202.16 L103.10 202.38 L103.85 202.61 L104.60 202.85 L105.35 203.09 L106.10 203.34 L106.85 203.59 L107.60 203.84 L108.35 204.10 L109.10 204.37 L109.85 204.64 L110.60 204.92 L111.35 205.20 L112.10 205.49 L112.85 205.79 L113.60 206.09 L114.35 206.40 L115.10 206.71 L115.85 207.04 L116.60 207.37 L117.35 207.71 L118.10 208.06 L118.85 208.42 L119.60 208.78 L120.35 209.16 L121.10 209.54 L121.85 209.94 L122.60 210.34 L123.35 210.76 L124.10 211.18 L124.85 211.62 L125.60 212.06 L126.35 212.52 L127.10 212.99 L127.85 213.48 L128.60 213.97 L129.35 214.48 L130.10 215.00 L130.85 215.53 L131.60 216.07 L132.35 216.63 L133.10 217.19 L133.85 217.77 L134.60 218.34 L135.35 218.92 L136.10 219.50 L136.85 220.08 L137.60 220.65 L138.35 221.22 L139.10 221.79 L139.85 222.35 L140.60 222.89 L141.35 223.43 L142.10 223.95 L142.85 224.45 L143.60 224.94 L144.35 225.40 L145.10 225.85 L145.85 226.27 L146.60 226.67 L147.35 227.04 L148.10 227.39 L148.85 227.71 L149.60 228.02 L150.35 228.30 L151.10 228.55 L151.85 228.79 L152.60 229.01 L153.35 229.20 L154.10 229.38 L154.85 229.53 L155.60 229.67 L156.35 229.78 L157.10 229.88 L157.85 229.96 L158.60 230.02 L159.35 230.07 L160.10 230.09 L160.85 230.11 L161.60 230.10 L162.35 230.08 L163.10 230.05 L163.85 230.00 L164.60 229.93 L165.35 229.85 L166.10 229.76 L166.85 229.66 L167.60 229.54 L168.35 229.41 L169.10 229.27 L169.85 229.11 L170.60 228.95 L171.35 228.78 L172.10 228.59 L172.85 228.40 L173.60 228.20 L174.35 227.98 L175.10 227.76 L175.85 227.54 L176.60 227.30 L177.35 227.06 L178.10 226.81 L178.85 226.55 L179.60 226.29 L180.35 226.02 L181.10 225.75 L181.85 225.47 L182.60 225.18 L183.35 224.90 L184.10 224.60 L184.85 224.30 L185.60 224.00 L186.35 223.70 L187.10 223.39 L187.85 223.08 L188.60 222.76 L189.35 222.44 L190.10 222.12 L190.85 221.80 L191.60 221.48 L192.35 221.16 L193.10 220.83 L193.85 220.50 L194.60 220.18 L195.35 219.85 L196.10 219.53 L196.85 219.20 L197.60 218.88 L198.35 218.55 L199.10 218.23 L199.85 217.91 L200.60 217.59 L201.35 217.27 L202.10 216.96 L202.85 216.65 L203.60 216.34 L204.35 216.03 L205.10 215.73 L205.85 215.44 L206.60 215.14 L207.35 214.86 L208.10 214.57 L208.85 214.30 L209.60 214.02 L210.35 213.76 L211.10 213.50 L211.85 213.24 L212.60 212.99 L213.35 212.75 L214.10 212.52 L214.85 212.29 L215.60 212.07 L216.35 211.86 L217.10 211.65 L217.85 211.45 L218.60 211.26 L219.35 211.07 L220.10 210.89 L220.85 210.71 L221.60 210.54 L222.35 210.37 L223.10 210.21 L223.85 210.06 L224.60 209.91 L225.35 209.77 L226.10 209.63 L226.85 209.50 L227.60 209.37 L228.35 209.24 L229.10 209.12 L229.85 209.01 L230.60 208.90 L231.35 208.80 L232.10 208.70 L232.85 208.60 L233.60 208.51 L234.35 208.42 L235.10 208.33 L235.85 208.25 L236.60 208.18 L237.35 208.10 L238.10 208.03 L238.85 207.97 L239.60 207.91 L240.35 207.85 L241.10 207.79 L241.85 207.73 L242.60 207.68 L243.35 207.64 L244.10 207.59 L244.85 207.55 L245.60 207.51 L246.35 207.47 L247.10 207.43 L247.85 207.41 L248.60 207.38 L249.35 207.37 L250.10 207.37 L250.85 207.38 L251.60 207.40 L252.35 207.45 L253.10 207.50 L253.85 207.58 L254.60 207.68 L255.35 207.81 L256.10 207.96 L256.85 208.13 L257.60 208.34 L258.35 208.58 L259.10 208.84 L259.85 209.15 L260.60 209.48 L261.35 209.86 L262.10 210.28 L262.85 210.73 L263.60 211.23 L264.35 211.77 L265.10 212.34 L265.85 212.94 L266.60 213.58 L267.35 214.24 L268.10 214.93 L268.85 215.64 L269.60 216.37 L270.35 217.12 L271.10 217.89 L271.85 218.67 L272.60 219.46 L273.35 220.26 L274.10 221.06 L274.85 221.86 L275.60 222.67 L276.35 223.48 L277.10 224.28 L277.85 225.07 L278.60 225.85 L279.35 226.62 L280.10 227.38 L280.85 228.12 L281.60 228.84 L282.35 229.54 L283.10 230.23 L283.85 230.89 L284.60 231.53 L285.35 232.15 L286.10 232.74 L286.85 233.31 L287.60 233.86 L288.35 234.39 L289.10 234.88 L289.85 235.36 L290.60 235.80 L291.35 236.22 L292.10 236.62 L292.85 236.98 L293.60 237.31 L294.35 237.62 L295.10 237.89 L295.85 238.14 L296.60 238.35 L297.35 238.53 L298.10 238.68 L298.85 238.79 L299.60 238.87 L300.35 238.91 L301.10 238.92 L301.85 238.89 L302.60 238.83 L303.35 238.73 L304.10 238.59 L304.85 238.41 L305.60 238.19 L306.35 237.93 L307.10 237.64 L307.85 237.30 L308.60 236.91 L309.35 236.49 L310.10 236.02 L310.85 235.51 L311.60 234.95 L312.35 234.35 L313.10 233.71 L313.85 233.01 L314.60 232.27 L315.35 231.48 L316.10 230.65 L316.85 229.76 L317.60 228.83 L318.35 227.84 L319.10 226.80 L319.85 225.72 L320.60 224.59 L321.35 223.42 L322.10 222.21 L322.85 220.97 L323.60 219.69 L324.35 218.38 L325.10 217.05 L325.85 215.69 L326.60 214.31 L327.35 212.91 L328.10 211.50 L328.85 210.08 L329.60 208.64 L330.35 207.20 L331.10 205.76 L331.85 204.32 L332.60 202.88 L333.35 201.45 L334.10 200.02 L334.85 198.61 L335.60 197.22 L336.35 195.84 L337.10 194.48 L337.85 193.15 L338.60 191.84 L339.35 190.56 L340.10 189.32 L340.85 188.11 L341.60 186.93 L342.35 185.79 L343.10 184.68 L343.85 183.60 L344.60 182.56 L345.35 181.55 L346.10 180.58 L346.85 179.65 L347.60 178.75 L348.35 177.88 L349.10 177.06 L349.85 176.26 L350.60 175.51 L351.35 174.79 L352.10 174.11 L352.85 173.46 L353.60 172.86 L354.35 172.29 L355.10 171.76 L355.85 171.26 L356.60 170.81 L357.35 170.39 L358.10 170.01 L358.85 169.68 L359.60 169.37 L360.35 169.11 L361.10 168.88 L361.85 168.69 L362.60 168.52 L363.35 168.39 L364.10 168.29 L364.85 168.21 L365.60 168.16 L366.35 168.14 L367.10 168.14 L367.85 168.16 L368.60 168.21 L369.35 168.27 L370.10 168.36 L370.85 168.46 L371.60 168.57 L372.35 168.70 L373.10 168.84 L373.85 169.00 L374.60 169.16 L375.35 169.33 L376.10 169.51 L376.85 169.70 L377.60 169.89 L378.35 170.09 L379.10 170.28 L379.85 170.48 L380.60 170.67 L381.35 170.87 L382.10 171.05 L382.85 171.24 L383.60 171.42 L384.35 171.59 L385.10 171.75 L385.85 171.90 L386.60 172.05 L387.35 172.18 L388.10 172.31 L388.85 172.44 L389.60 172.55 L390.35 172.66 L391.10 172.76 L391.85 172.85 L392.60 172.94 L393.35 173.01 L394.10 173.08 L394.85 173.15 L395.60 173.21 L396.35 173.26 L397.10 173.30 L397.85 173.34 L398.60 173.37 L399.35 173.39 L400.10 173.41 L400.85 173.42 L401.60 173.43 L402.35 173.43 L403.10 173.42 L403.85 173.41 L404.60 173.39 L405.35 173.37 L406.10 173.34 L406.85 173.31 L407.60 173.27 L408.35 173.22 L409.10 173.17 L409.85 173.12 L410.60 173.06 L411.35 172.99 L412.10 172.93 L412.85 172.85 L413.60 172.77 L414.35 172.69 L415.10 172.60 L415.85 172.51 L416.60 172.42 L417.35 172.32 L418.10 172.21 L418.85 172.10 L419.60 171.99 L420.35 171.88 L421.10 171.76 L421.85 171.64 L422.60 171.51 L423.35 171.38 L424.10 171.25 L424.85 171.11 L425.60 170.98 L426.35 170.84 L427.10 170.69 L427.85 170.54 L428.60 170.39 L429.35 170.24 L430.10 170.09 L430.85 169.93 L431.60 169.77 L432.35 169.61 L433.10 169.45 L433.85 169.28 L434.60 169.11 L435.35 168.94 L436.10 168.77 L436.85 168.60 L437.60 168.43 L438.35 168.25 L439.10 168.07 L439.85 167.90 L440.60 167.72 L441.35 167.54 L442.10 167.36 L442.85 167.17 L443.60 166.99 L444.35 166.81 L445.10 166.62 L445.85 166.44 L446.60 166.26 L447.35 166.07 L448.10 165.88 L448.85 165.70 L449.60 165.51 L450.35 165.32 L451.10 165.13 L451.85 164.94 L452.60 164.75 L453.35 164.56 L454.10 164.36 L454.85 164.16 L455.60 163.97 L456.35 163.77 L457.10 163.56 L457.85 163.36 L458.60 163.15 L459.35 162.94 L460.10 162.73 L460.85 162.52 L461.60 162.30 L462.35 162.09 L463.10 161.86 L463.85 161.64 L464.60 161.41 L465.35 161.18 L466.10 160.95 L466.85 160.71 L467.60 160.47 L468.35 160.23 L469.10 159.98 L469.85 159.73 L470.60 159.47 L471.35 159.21 L472.10 158.95 L472.85 158.68 L473.60 158.41 L474.35 158.14 L475.10 157.86 L475.85 157.57 L476.60 157.28 L477.35 156.99 L478.10 156.69 L478.85 156.38 L479.60 156.07 L480.35 155.76 L481.10 155.44 L481.85 155.11 L482.60 154.78 L483.35 154.45 L484.10 154.11 L484.85 153.76 L485.60 153.42 L486.35 153.06 L487.10 152.70 L487.85 152.34 L488.60 151.98 L489.35 151.61 L490.10 151.23 L490.85 150.86 L491.60 150.47 L492.35 150.09 L493.10 149.70 L493.85 149.31 L494.60 148.92 L495.35 148.52 L496.10 148.12 L496.85 147.71 L497.60 147.31 L498.35 146.90 L499.10 146.49 L499.85 146.08 L500.60 145.66 L501.35 145.24 L502.10 144.82 L502.85 144.40 L503.60 143.98 L504.35 143.55 L505.10 143.13 L505.85 142.70 L506.60 142.27 L507.35 141.84 L508.10 141.41 L508.85 140.98 L509.60 140.54 L510.35 140.11 L511.10 139.67 L511.85 139.24 L512.60 138.80 L513.35 138.37 L514.10 137.93 L514.85 137.50 L515.60 137.06 L516.35 136.62 L517.10 136.19 L517.85 135.75 L518.60 135.32 L519.35 134.89 L520.10 134.45 L520.85 134.02 L521.60 133.59 L522.35 133.16 L523.10 132.73 L523.85 132.30 L524.60 131.88 L525.35 131.45 L526.10 131.03 L526.85 130.61 L527.60 130.19 L528.35 129.78 L529.10 129.37 L529.85 128.97 L530.60 128.56 L531.35 128.17 L532.10 127.78 L532.85 127.40 L533.60 127.02 L534.35 126.66 L535.10 126.30 L535.85 125.95 L536.60 125.61 L537.35 125.28 L538.10 124.95 L538.85 124.65 L539.60 124.35 L540.35 124.06 L541.10 123.79 L541.85 123.53 L542.60 123.28 L543.35 123.05 L544.10 122.83 L544.85 122.63 L545.60 122.45 L546.35 122.28 L547.10 122.12 L547.85 121.99 L548.60 121.87 L549.35 121.77 L550.10 121.70 L550.85 121.64 L551.60 121.60 L552.35 121.58 L553.10 121.58 L553.85 121.61 L554.60 121.66 L555.35 121.73 L556.10 121.81 L556.85 121.92 L557.60 122.05 L558.35 122.19 L559.10 122.35 L559.85 122.52 L560.60 122.71 L561.35 122.91 L562.10 123.12 L562.85 123.34 L563.60 123.56 L564.35 123.80 L565.10 124.04 L565.85 124.29 L566.60 124.54 L567.35 124.79 L568.10 125.05 L568.85 125.30 L569.60 125.56 L570.35 125.81 L571.10 126.06 L571.85 126.30 L572.60 126.55 L573.35 126.78 L574.10 127.00 L574.85 127.22 L575.60 127.43 L576.35 127.63 L577.10 127.83 L577.85 128.01 L578.60 128.18 L579.35 128.35 L580.10 128.51 L580.85 128.65 L581.60 128.79 L582.35 128.92 L583.10 129.04 L583.85 129.15 L584.60 129.25 L585.35 129.34 L586.10 129.42 L586.85 129.49 L587.60 129.55 L588.35 129.60 L589.10 129.63 L589.85 129.66 L590.60 129.68 L591.35 129.68 L592.10 129.67 L592.85 129.66 L593.60 129.63 L594.35 129.59 L595.10 129.53 L595.85 129.47 L596.60 129.39 L597.35 129.30 L598.10 129.20 L598.85 129.09 L599.60 128.96 L600.35 128.83 L601.10 128.68 L601.85 128.51 L602.60 128.33 L603.35 128.14 L604.10 127.94 L604.85 127.72 L605.60 127.49 L606.35 127.25 L607.10 126.99 L607.85 126.72 L608.60 126.43 L609.35 126.13 L610.10 125.82 L610.85 125.49 L611.60 125.15 L612.35 124.79 L613.10 124.42 L613.85 124.04 L614.60 123.64 L615.35 123.24 L616.10 122.82 L616.85 122.40 L617.60 121.97 L618.35 121.54 L619.10 121.10 L619.85 120.66 L620.60 120.21 L621.35 119.76 L622.10 119.31 L622.85 118.86 L623.60 118.42 L624.35 117.97 L625.10 117.53 L625.85 117.09 L626.60 116.66 L627.35 116.24 L628.10 115.82 L628.85 115.41 L629.60 115.01 L630.35 114.63 L631.10 114.25 L631.85 113.88 L632.60 113.53 L633.35 113.20 L634.10 112.88 L634.85 112.58 L635.60 112.29 L636.35 112.03 L637.10 111.78 L637.85 111.56 L638.60 111.36 L639.35 111.17 L640.10 111.01 L640.85 110.87 L641.60 110.75 L642.35 110.64 L643.10 110.56 L643.85 110.49 L644.60 110.44 L645.35 110.40 L646.10 110.38 L646.85 110.38 L647.60 110.39 L648.35 110.42 L649.10 110.46 L649.85 110.51 L650.60 110.57 L651.35 110.65 L652.10 110.74 L652.85 110.84 L653.60 110.95 L654.35 111.07 L655.10 111.20 L655.85 111.34 L656.60 111.49 L657.35 111.65 L658.10 111.81 L658.85 111.98 L659.60 112.16 L660.35 112.34 L661.10 112.53 L661.85 112.72 L662.60 112.91 L663.35 113.11 L664.10 113.32 L664.85 113.52 L665.60 113.74 L666.35 113.96 L667.10 114.19 L667.85 114.42 L668.60 114.67 L669.35 114.92 L670.10 115.19 L670.85 115.46 L671.60 115.75 L672.35 116.05 L673.10 116.36 L673.85 116.68 L674.60 117.02 L675.35 117.38 L676.10 117.75 L676.85 118.14 L677.60 118.55 L678.35 118.97 L679.10 119.41 L679.85 119.88 L680.60 120.36 L681.35 120.86 L682.10 121.39 L682.85 121.94 L683.60 122.51 L684.35 123.10 L685.10 123.72 L685.85 124.37 L686.60 125.04 L687.35 125.74 L688.10 126.47 L688.85 127.22 L689.60 128.01 L690.35 128.82 L691.10 129.67 L691.85 130.54 L692.60 131.45 L693.35 132.39 L694.10 133.37 L694.85 134.38 L695.60 135.42 L696.35 136.50 L697.10 137.62 L697.85 138.77 L698.60 139.97 L699.35 141.20 L700.10 142.47 L700.85 143.78 L701.60 145.13 L702.35 146.52 L703.10 147.95 L703.85 149.43 L704.60 150.95 L705.35 152.52 L706.10 154.13 L706.85 155.79 L707.60 157.50 L708.35 159.25 L709.10 161.05 L709.85 162.90 L710.60 164.80 L711.35 166.74 L712.10 168.75 L712.85 170.80 L713.60 172.90 L714.35 175.06 L715.10 177.27 L715.85 179.54 L716.60 181.86 L717.35 184.22 L718.10 186.62 L718.85 189.05 L719.60 191.49 L720.35 193.95 L721.10 196.42 L721.85 198.88 L722.60 201.33 L723.35 203.76 L724.10 206.17 L724.85 208.54 L725.60 210.88 L726.35 213.16 L727.10 215.39 L727.85 217.55 L728.60 219.63 L729.35 221.65 L730.10 223.59 L730.85 225.46 L731.60 227.25 L732.35 228.98 L733.10 230.64 L733.85 232.22 L734.60 233.74 L735.35 235.20 L736.10 236.58 L736.85 237.91 L737.60 239.17 L738.35 240.36 L739.10 241.50 L739.85 242.57 L740.60 243.59 L741.35 244.55 L742.10 245.44 L742.85 246.29 L743.60 247.07 L744.35 247.80 L745.10 248.48 L745.85 249.11 L746.60 249.68 L747.35 250.20 L748.10 250.67 L748.85 251.10 L749.60 251.48 L750.35 251.81 L751.10 252.09 L751.85 252.33 L752.60 252.53 L753.35 252.69 L754.10 252.80 L754.85 252.88 L755.60 252.92 L756.35 252.92 L757.10 252.89 L757.85 252.82 L758.60 252.72 L759.35 252.59 L760.10 252.43 L760.85 252.24 L761.60 252.02 L762.35 251.77 L763.10 251.49 L763.85 251.19 L764.60 250.87 L765.35 250.53 L766.10 250.16 L766.85 249.77 L767.60 249.37 L768.35 248.95 L769.10 248.51 L769.85 248.05 L770.60 247.58 L771.35 247.10 L772.10 246.61 L772.85 246.10 L773.60 245.59 L774.35 245.07 L775.10 244.54 L775.85 244.01 L776.60 243.47 L777.35 242.93 L778.10 242.38 L778.85 241.84 L779.60 241.29 L780.35 240.75 L781.10 240.21 L781.85 239.67 L782.60 239.14 L783.35 238.62 L784.10 238.10 L784.85 237.59 L785.60 237.09 L786.35 236.60 L787.10 236.12 L787.85 235.66 L788.60 235.21 L789.35 234.77 L790.10 234.36 L790.85 233.96 L791.60 233.57 L792.35 233.20 L793.10 232.84 L793.85 232.49 L794.60 232.16 L795.35 231.83 L796.10 231.52 L796.85 231.22 L797.60 230.93 L798.35 230.65 L799.10 230.38 L799.85 230.11 L800.60 229.85 L801.35 229.60 L802.10 229.36 L802.85 229.12 L803.60 228.88 L804.35 228.65 L805.10 228.42 L805.85 228.20 L806.60 227.98 L807.35 227.76 L808.10 227.54 L808.85 227.32 L809.60 227.10 L810.35 226.88 L811.10 226.66 L811.85 226.43 L812.60 226.21 L813.35 225.98 L814.10 225.74 L814.85 225.51 L815.60 225.27 L816.35 225.03 L817.10 224.78 L817.85 224.53 L818.60 224.28 L819.35 224.03 L820.10 223.77 L820.85 223.51 L821.60 223.25 L822.35 222.99 L823.10 222.72 L823.85 222.45 L824.60 222.18 L825.35 221.91 L826.10 221.64 L826.85 221.36 L827.60 221.08 L828.35 220.80 L829.10 220.52 L829.85 220.24 L830.60 219.95 L831.35 219.67 L832.10 219.38 L832.85 219.09 L833.60 218.80 L834.35 218.51 L835.10 218.22 L835.85 217.93 L836.60 217.64 L837.35 217.35 L838.10 217.05 L838.85 216.76 L839.60 216.46 L840.35 216.17 L841.10 215.87 L841.85 215.58 L842.60 215.28 L843.35 214.99 L844.10 214.69 L844.85 214.40 L845.60 214.10 L846.35 213.81 L847.10 213.51 L847.85 213.22 L848.60 212.92 L849.35 212.63 L850.10 212.34 L850.85 212.05 L851.60 211.76 L852.35 211.47 L853.10 211.18 L853.85 210.90 L854.60 210.61 L855.35 210.33 L856.10 210.05 L856.85 209.77 L857.60 209.49 L858.35 209.21 L859.10 208.94 L859.85 208.66 L860.60 208.39 L861.35 208.12 L862.10 207.85 L862.85 207.59 L863.60 207.33 L864.35 207.07 L865.10 206.81 L865.85 206.55 L866.60 206.30 L867.35 206.05 L868.10 205.81 L868.85 205.56 L869.60 205.32 L870.35 205.08 L871.10 204.85 L871.85 204.62 L872.60 204.39 L873.35 204.16 L874.10 203.94 L874.85 203.72 L875.60 203.51 L876.35 203.30 L877.10 203.09 L877.85 202.89 L878.60 202.69 L879.35 202.50 L880.10 202.31 L880.85 202.12 L881.60 201.94 L882.35 201.77 L883.10 201.59 L883.85 201.43 L884.60 201.26 L885.35 201.10 L886.10 200.95 L886.85 200.80 L887.60 200.65 L888.35 200.51 L889.10 200.37 L889.85 200.24 L890.60 200.11 L891.35 199.98 L892.10 199.86 L892.85 199.74 L893.60 199.63 L894.35 199.53 L895.10 199.42 L895.85 199.32 L896.60 199.23 L897.35 199.14 L898.10 199.05 L898.85 198.97 L899.60 198.89 L900.35 198.82 L901.10 198.75 L901.85 198.69 L902.60 198.63 L903.35 198.57 L904.10 198.52 L904.85 198.47 L905.60 198.43 L906.35 198.39 L907.10 198.36 L907.85 198.33 L908.60 198.30 L909.35 198.28 L910.10 198.26 L910.85 198.25 L911.60 198.24 L912.35 198.24 L913.10 198.24 L913.85 198.24 L914.60 198.25 L915.35 198.26 L916.10 198.28 L916.85 198.30 L917.60 198.33 L918.35 198.36 L919.10 198.39 L919.85 198.43 L920.60 198.48 L921.35 198.52 L922.10 198.57 L922.85 198.63 L923.60 198.69 L924.35 198.76 L925.10 198.82 L925.85 198.90 L926.60 198.97 L927.35 199.06 L928.10 199.14 L928.85 199.23 L929.60 199.33 L930.35 199.43 L931.00 199.51" stroke="#8b8b8b" class="ln"/>
<path d="M71.00 292.97 L71.75 292.88 L72.50 292.79 L73.25 292.70 L74.00 292.61 L74.75 292.52 L75.50 292.42 L76.25 292.33 L77.00 292.23 L77.75 292.13 L78.50 292.02 L79.25 291.92 L80.00 291.81 L80.75 291.70 L81.50 291.59 L82.25 291.48 L83.00 291.36 L83.75 291.24 L84.50 291.12 L85.25 290.99 L86.00 290.86 L86.75 290.73 L87.50 290.59 L88.25 290.45 L89.00 290.31 L89.75 290.16 L90.50 290.01 L91.25 289.86 L92.00 289.70 L92.75 289.54 L93.50 289.37 L94.25 289.20 L95.00 289.03 L95.75 288.85 L96.50 288.66 L97.25 288.48 L98.00 288.28 L98.75 288.08 L99.50 287.88 L100.25 287.67 L101.00 287.46 L101.75 287.24 L102.50 287.02 L103.25 286.79 L104.00 286.55 L104.75 286.31 L105.50 286.06 L106.25 285.81 L107.00 285.55 L107.75 285.29 L108.50 285.01 L109.25 284.74 L110.00 284.45 L110.75 284.16 L111.50 283.86 L112.25 283.56 L113.00 283.25 L113.75 282.93 L114.50 282.61 L115.25 282.27 L116.00 281.94 L116.75 281.59 L117.50 281.23 L118.25 280.87 L119.00 280.50 L119.75 280.12 L120.50 279.74 L121.25 279.35 L122.00 278.94 L122.75 278.53 L123.50 278.12 L124.25 277.69 L125.00 277.26 L125.75 276.81 L126.50 276.36 L127.25 275.90 L128.00 275.43 L128.75 274.95 L129.50 274.46 L130.25 273.96 L131.00 273.45 L131.75 272.94 L132.50 272.41 L133.25 271.88 L134.00 271.33 L134.75 270.78 L135.50 270.23 L136.25 269.67 L137.00 269.10 L137.75 268.53 L138.50 267.96 L139.25 267.39 L140.00 266.81 L140.75 266.24 L141.50 265.67 L142.25 265.10 L143.00 264.53 L143.75 263.97 L144.50 263.41 L145.25 262.86 L146.00 262.31 L146.75 261.78 L147.50 261.25 L148.25 260.73 L149.00 260.22 L149.75 259.73 L150.50 259.24 L151.25 258.77 L152.00 258.32 L152.75 257.88 L153.50 257.45 L154.25 257.05 L155.00 256.66 L155.75 256.29 L156.50 255.94 L157.25 255.61 L158.00 255.31 L158.75 255.02 L159.50 254.76 L160.25 254.53 L161.00 254.32 L161.75 254.14 L162.50 253.98 L163.25 253.85 L164.00 253.76 L164.75 253.69 L165.50 253.65 L166.25 253.65 L167.00 253.66 L167.75 253.71 L168.50 253.78 L169.25 253.87 L170.00 253.98 L170.75 254.11 L171.50 254.26 L172.25 254.43 L173.00 254.61 L173.75 254.81 L174.50 255.02 L175.25 255.24 L176.00 255.47 L176.75 255.70 L177.50 255.94 L178.25 256.19 L179.00 256.44 L179.75 256.69 L180.50 256.94 L181.25 257.19 L182.00 257.44 L182.75 257.69 L183.50 257.94 L184.25 258.19 L185.00 258.43 L185.75 258.67 L186.50 258.91 L187.25 259.14 L188.00 259.38 L188.75 259.60 L189.50 259.83 L190.25 260.04 L191.00 260.26 L191.75 260.47 L192.50 260.67 L193.25 260.86 L194.00 261.05 L194.75 261.24 L195.50 261.41 L196.25 261.58 L197.00 261.74 L197.75 261.90 L198.50 262.04 L199.25 262.18 L200.00 262.30 L200.75 262.42 L201.50 262.53 L202.25 262.63 L203.00 262.71 L203.75 262.79 L204.50 262.85 L205.25 262.91 L206.00 262.95 L206.75 262.98 L207.50 263.00 L208.25 263.00 L209.00 262.99 L209.75 262.97 L210.50 262.94 L211.25 262.90 L212.00 262.85 L212.75 262.78 L213.50 262.71 L214.25 262.62 L215.00 262.52 L215.75 262.42 L216.50 262.30 L217.25 262.17 L218.00 262.04 L218.75 261.89 L219.50 261.74 L220.25 261.57 L221.00 261.40 L221.75 261.22 L222.50 261.03 L223.25 260.83 L224.00 260.62 L224.75 260.41 L225.50 260.19 L226.25 259.96 L227.00 259.73 L227.75 259.48 L228.50 259.24 L229.25 258.98 L230.00 258.72 L230.75 258.45 L231.50 258.18 L232.25 257.90 L233.00 257.62 L233.75 257.33 L234.50 257.03 L235.25 256.73 L236.00 256.43 L236.75 256.12 L237.50 255.81 L238.25 255.50 L239.00 255.18 L239.75 254.85 L240.50 254.53 L241.25 254.20 L242.00 253.87 L242.75 253.53 L243.50 253.19 L244.25 252.85 L245.00 252.51 L245.75 252.17 L246.50 251.83 L247.25 251.48 L248.00 251.13 L248.75 250.78 L249.50 250.44 L250.25 250.09 L251.00 249.74 L251.75 249.39 L252.50 249.04 L253.25 248.69 L254.00 248.34 L254.75 247.99 L255.50 247.64 L256.25 247.30 L257.00 246.95 L257.75 246.61 L258.50 246.27 L259.25 245.93 L260.00 245.59 L260.75 245.25 L261.50 244.91 L262.25 244.58 L263.00 244.25 L263.75 243.92 L264.50 243.59 L265.25 243.27 L266.00 242.95 L266.75 242.64 L267.50 242.32 L268.25 242.01 L269.00 241.71 L269.75 241.40 L270.50 241.10 L271.25 240.81 L272.00 240.52 L272.75 240.23 L273.50 239.95 L274.25 239.68 L275.00 239.40 L275.75 239.14 L276.50 238.88 L277.25 238.62 L278.00 238.37 L278.75 238.13 L279.50 237.89 L280.25 237.65 L281.00 237.43 L281.75 237.21 L282.50 236.99 L283.25 236.78 L284.00 236.58 L284.75 236.39 L285.50 236.20 L286.25 236.01 L287.00 235.83 L287.75 235.66 L288.50 235.49 L289.25 235.33 L290.00 235.18 L290.75 235.03 L291.50 234.89 L292.25 234.75 L293.00 234.62 L293.75 234.49 L294.50 234.37 L295.25 234.25 L296.00 234.14 L296.75 234.04 L297.50 233.94 L298.25 233.84 L299.00 233.75 L299.75 233.67 L300.50 233.59 L301.25 233.52 L302.00 233.45 L302.75 233.39 L303.50 233.33 L304.25 233.27 L305.00 233.23 L305.75 233.18 L306.50 233.14 L307.25 233.11 L308.00 233.08 L308.75 233.06 L309.50 233.04 L310.25 233.02 L311.00 233.01 L311.75 233.01 L312.50 233.01 L313.25 233.01 L314.00 233.02 L314.75 233.03 L315.50 233.05 L316.25 233.07 L317.00 233.09 L317.75 233.12 L318.50 233.16 L319.25 233.20 L320.00 233.24 L320.75 233.29 L321.50 233.34 L322.25 233.39 L323.00 233.45 L323.75 233.51 L324.50 233.58 L325.25 233.65 L326.00 233.72 L326.75 233.80 L327.50 233.88 L328.25 233.97 L329.00 234.06 L329.75 234.15 L330.50 234.25 L331.25 234.35 L332.00 234.45 L332.75 234.56 L333.50 234.67 L334.25 234.78 L335.00 234.90 L335.75 235.02 L336.50 235.14 L337.25 235.27 L338.00 235.40 L338.75 235.53 L339.50 235.67 L340.25 235.81 L341.00 235.95 L341.75 236.09 L342.50 236.24 L343.25 236.38 L344.00 236.52 L344.75 236.66 L345.50 236.80 L346.25 236.93 L347.00 237.06 L347.75 237.19 L348.50 237.30 L349.25 237.42 L350.00 237.52 L350.75 237.61 L351.50 237.70 L352.25 237.78 L353.00 237.84 L353.75 237.90 L354.50 237.94 L355.25 237.96 L356.00 237.98 L356.75 237.98 L357.50 237.97 L358.25 237.95 L359.00 237.92 L359.75 237.88 L360.50 237.83 L361.25 237.77 L362.00 237.70 L362.75 237.62 L363.50 237.53 L364.25 237.44 L365.00 237.33 L365.75 237.23 L366.50 237.11 L367.25 236.99 L368.00 236.87 L368.75 236.74 L369.50 236.60 L370.25 236.46 L371.00 236.32 L371.75 236.18 L372.50 236.03 L373.25 235.88 L374.00 235.74 L374.75 235.59 L375.50 235.43 L376.25 235.28 L377.00 235.13 L377.75 234.99 L378.50 234.84 L379.25 234.69 L380.00 234.55 L380.75 234.41 L381.50 234.27 L382.25 234.14 L383.00 234.01 L383.75 233.89 L384.50 233.77 L385.25 233.66 L386.00 233.55 L386.75 233.46 L387.50 233.36 L388.25 233.28 L389.00 233.20 L389.75 233.14 L390.50 233.08 L391.25 233.03 L392.00 232.99 L392.75 232.97 L393.50 232.95 L394.25 232.95 L395.00 232.95 L395.75 232.97 L396.50 233.01 L397.25 233.05 L398.00 233.11 L398.75 233.18 L399.50 233.26 L400.25 233.36 L401.00 233.46 L401.75 233.58 L402.50 233.71 L403.25 233.85 L404.00 233.99 L404.75 234.15 L405.50 234.31 L406.25 234.49 L407.00 234.67 L407.75 234.86 L408.50 235.06 L409.25 235.27 L410.00 235.48 L410.75 235.70 L411.50 235.92 L412.25 236.15 L413.00 236.39 L413.75 236.63 L414.50 236.88 L415.25 237.13 L416.00 237.39 L416.75 237.65 L417.50 237.91 L418.25 238.18 L419.00 238.45 L419.75 238.72 L420.50 239.00 L421.25 239.27 L422.00 239.55 L422.75 239.83 L423.50 240.11 L424.25 240.39 L425.00 240.67 L425.75 240.94 L426.50 241.22 L427.25 241.50 L428.00 241.78 L428.75 242.05 L429.50 242.32 L430.25 242.59 L431.00 242.86 L431.75 243.12 L432.50 243.38 L433.25 243.64 L434.00 243.90 L434.75 244.15 L435.50 244.39 L436.25 244.64 L437.00 244.88 L437.75 245.11 L438.50 245.34 L439.25 245.57 L440.00 245.79 L440.75 246.01 L441.50 246.22 L442.25 246.42 L443.00 246.62 L443.75 246.82 L444.50 247.01 L445.25 247.19 L446.00 247.37 L446.75 247.54 L447.50 247.71 L448.25 247.86 L449.00 248.02 L449.75 248.16 L450.50 248.30 L451.25 248.43 L452.00 248.55 L452.75 248.67 L453.50 248.78 L454.25 248.88 L455.00 248.97 L455.75 249.05 L456.50 249.13 L457.25 249.19 L458.00 249.25 L458.75 249.30 L459.50 249.34 L460.25 249.37 L461.00 249.40 L461.75 249.41 L462.50 249.41 L463.25 249.40 L464.00 249.39 L464.75 249.36 L465.50 249.33 L466.25 249.28 L467.00 249.23 L467.75 249.18 L468.50 249.11 L469.25 249.04 L470.00 248.97 L470.75 248.88 L471.50 248.80 L472.25 248.71 L473.00 248.61 L473.75 248.51 L474.50 248.41 L475.25 248.31 L476.00 248.20 L476.75 248.09 L477.50 247.99 L478.25 247.88 L479.00 247.77 L479.75 247.66 L480.50 247.55 L481.25 247.44 L482.00 247.33 L482.75 247.23 L483.50 247.13 L484.25 247.03 L485.00 246.93 L485.75 246.84 L486.50 246.75 L487.25 246.67 L488.00 246.59 L488.75 246.52 L489.50 246.45 L490.25 246.39 L491.00 246.34 L491.75 246.30 L492.50 246.26 L493.25 246.23 L494.00 246.21 L494.75 246.20 L495.50 246.20 L496.25 246.21 L497.00 246.23 L497.75 246.26 L498.50 246.31 L499.25 246.36 L500.00 246.42 L500.75 246.50 L501.50 246.58 L502.25 246.67 L503.00 246.77 L503.75 246.88 L504.50 247.00 L505.25 247.12 L506.00 247.25 L506.75 247.38 L507.50 247.53 L508.25 247.67 L509.00 247.83 L509.75 247.98 L510.50 248.14 L511.25 248.31 L512.00 248.47 L512.75 248.64 L513.50 248.81 L514.25 248.99 L515.00 249.16 L515.75 249.34 L516.50 249.52 L517.25 249.69 L518.00 249.87 L518.75 250.04 L519.50 250.22 L520.25 250.39 L521.00 250.56 L521.75 250.72 L522.50 250.89 L523.25 251.05 L524.00 251.21 L524.75 251.36 L525.50 251.51 L526.25 251.65 L527.00 251.79 L527.75 251.92 L528.50 252.05 L529.25 252.18 L530.00 252.30 L530.75 252.42 L531.50 252.53 L532.25 252.64 L533.00 252.75 L533.75 252.85 L534.50 252.95 L535.25 253.04 L536.00 253.13 L536.75 253.22 L537.50 253.30 L538.25 253.38 L539.00 253.45 L539.75 253.52 L540.50 253.59 L541.25 253.65 L542.00 253.71 L542.75 253.77 L543.50 253.82 L544.25 253.87 L545.00 253.92 L545.75 253.96 L546.50 254.00 L547.25 254.04 L548.00 254.07 L548.75 254.10 L549.50 254.13 L550.25 254.15 L551.00 254.17 L551.75 254.19 L552.50 254.20 L553.25 254.21 L554.00 254.22 L554.75 254.23 L555.50 254.23 L556.25 254.23 L557.00 254.22 L557.75 254.22 L558.50 254.21 L559.25 254.19 L560.00 254.18 L560.75 254.16 L561.50 254.14 L562.25 254.12 L563.00 254.10 L563.75 254.07 L564.50 254.04 L565.25 254.01 L566.00 253.97 L566.75 253.94 L567.50 253.90 L568.25 253.86 L569.00 253.82 L569.75 253.77 L570.50 253.73 L571.25 253.68 L572.00 253.63 L572.75 253.58 L573.50 253.52 L574.25 253.47 L575.00 253.41 L575.75 253.35 L576.50 253.29 L577.25 253.23 L578.00 253.17 L578.75 253.10 L579.50 253.04 L580.25 252.97 L581.00 252.90 L581.75 252.83 L582.50 252.76 L583.25 252.69 L584.00 252.61 L584.75 252.54 L585.50 252.46 L586.25 252.39 L587.00 252.31 L587.75 252.23 L588.50 252.15 L589.25 252.07 L590.00 251.99 L590.75 251.91 L591.50 251.83 L592.25 251.75 L593.00 251.67 L593.75 251.58 L594.50 251.50 L595.25 251.42 L596.00 251.33 L596.75 251.25 L597.50 251.16 L598.25 251.08 L599.00 250.99 L599.75 250.91 L600.50 250.82 L601.25 250.74 L602.00 250.65 L602.75 250.57 L603.50 250.48 L604.25 250.40 L605.00 250.31 L605.75 250.23 L606.50 250.15 L607.25 250.06 L608.00 249.98 L608.75 249.90 L609.50 249.82 L610.25 249.74 L611.00 249.66 L611.75 249.58 L612.50 249.50 L613.25 249.42 L614.00 249.34 L614.75 249.27 L615.50 249.19 L616.25 249.12 L617.00 249.04 L617.75 248.97 L618.50 248.90 L619.25 248.83 L620.00 248.76 L620.75 248.69 L621.50 248.63 L622.25 248.56 L623.00 248.50 L623.75 248.44 L624.50 248.38 L625.25 248.32 L626.00 248.26 L626.75 248.21 L627.50 248.15 L628.25 248.10 L629.00 248.05 L629.75 248.00 L630.50 247.95 L631.25 247.91 L632.00 247.87 L632.75 247.83 L633.50 247.79 L634.25 247.75 L635.00 247.71 L635.75 247.68 L636.50 247.65 L637.25 247.62 L638.00 247.59 L638.75 247.56 L639.50 247.54 L640.25 247.51 L641.00 247.49 L641.75 247.47 L642.50 247.45 L643.25 247.43 L644.00 247.41 L644.75 247.40 L645.50 247.38 L646.25 247.37 L647.00 247.36 L647.75 247.35 L648.50 247.34 L649.25 247.34 L650.00 247.33 L650.75 247.33 L651.50 247.32 L652.25 247.32 L653.00 247.32 L653.75 247.32 L654.50 247.32 L655.25 247.33 L656.00 247.33 L656.75 247.34 L657.50 247.34 L658.25 247.35 L659.00 247.36 L659.75 247.37 L660.50 247.38 L661.25 247.39 L662.00 247.40 L662.75 247.41 L663.50 247.43 L664.25 247.44 L665.00 247.46 L665.75 247.47 L666.50 247.49 L667.25 247.51 L668.00 247.53 L668.75 247.55 L669.50 247.57 L670.25 247.59 L671.00 247.61 L671.75 247.63 L672.50 247.65 L673.25 247.68 L674.00 247.69 L674.75 247.70 L675.50 247.70 L676.25 247.69 L677.00 247.66 L677.75 247.62 L678.50 247.55 L679.25 247.46 L680.00 247.34 L680.75 247.19 L681.50 247.01 L682.25 246.79 L683.00 246.54 L683.75 246.24 L684.50 245.90 L685.25 245.51 L686.00 245.08 L686.75 244.59 L687.50 244.04 L688.25 243.44 L689.00 242.78 L689.75 242.07 L690.50 241.30 L691.25 240.48 L692.00 239.60 L692.75 238.67 L693.50 237.70 L694.25 236.67 L695.00 235.60 L695.75 234.47 L696.50 233.30 L697.25 232.09 L698.00 230.82 L698.75 229.52 L699.50 228.17 L700.25 226.78 L701.00 225.35 L701.75 223.88 L702.50 222.37 L703.25 220.82 L704.00 219.23 L704.75 217.61 L705.50 215.95 L706.25 214.26 L707.00 212.52 L707.75 210.74 L708.50 208.92 L709.25 207.03 L710.00 205.09 L710.75 203.08 L711.50 201.00 L712.25 198.85 L713.00 196.63 L713.75 194.33 L714.50 191.99 L715.25 189.59 L716.00 187.17 L716.75 184.72 L717.50 182.26 L718.25 179.80 L719.00 177.35 L719.75 174.92 L720.50 172.53 L721.25 170.17 L722.00 167.84 L722.75 165.56 L723.50 163.32 L724.25 161.12 L725.00 158.97 L725.75 156.87 L726.50 154.81 L727.25 152.81 L728.00 150.86 L728.75 148.96 L729.50 147.12 L730.25 145.32 L731.00 143.58 L731.75 141.87 L732.50 140.20 L733.25 138.57 L734.00 136.97 L734.75 135.40 L735.50 133.86 L736.25 132.34 L737.00 130.84 L737.75 129.37 L738.50 127.92 L739.25 126.51 L740.00 125.13 L740.75 123.78 L741.50 122.47 L742.25 121.20 L743.00 119.97 L743.75 118.78 L744.50 117.64 L745.25 116.54 L746.00 115.50 L746.75 114.51 L747.50 113.57 L748.25 112.68 L749.00 111.86 L749.75 111.10 L750.50 110.39 L751.25 109.76 L752.00 109.18 L752.75 108.67 L753.50 108.21 L754.25 107.81 L755.00 107.46 L755.75 107.15 L756.50 106.89 L757.25 106.67 L758.00 106.49 L758.75 106.34 L759.50 106.23 L760.25 106.14 L761.00 106.09 L761.75 106.05 L762.50 106.03 L763.25 106.03 L764.00 106.05 L764.75 106.08 L765.50 106.12 L766.25 106.18 L767.00 106.25 L767.75 106.34 L768.50 106.43 L769.25 106.54 L770.00 106.67 L770.75 106.80 L771.50 106.94 L772.25 107.10 L773.00 107.27 L773.75 107.44 L774.50 107.63 L775.25 107.82 L776.00 108.03 L776.75 108.24 L777.50 108.46 L778.25 108.69 L779.00 108.93 L779.75 109.17 L780.50 109.42 L781.25 109.68 L782.00 109.94 L782.75 110.21 L783.50 110.48 L784.25 110.76 L785.00 111.04 L785.75 111.32 L786.50 111.61 L787.25 111.90 L788.00 112.20 L788.75 112.50 L789.50 112.80 L790.25 113.10 L791.00 113.40 L791.75 113.70 L792.50 114.01 L793.25 114.31 L794.00 114.62 L794.75 114.92 L795.50 115.22 L796.25 115.53 L797.00 115.83 L797.75 116.14 L798.50 116.46 L799.25 116.78 L800.00 117.11 L800.75 117.45 L801.50 117.80 L802.25 118.17 L803.00 118.55 L803.75 118.94 L804.50 119.35 L805.25 119.78 L806.00 120.24 L806.75 120.71 L807.50 121.20 L808.25 121.70 L809.00 122.22 L809.75 122.76 L810.50 123.31 L811.25 123.87 L812.00 124.44 L812.75 125.02 L813.50 125.61 L814.25 126.20 L815.00 126.81 L815.75 127.41 L816.50 128.03 L817.25 128.64 L818.00 129.25 L818.75 129.87 L819.50 130.48 L820.25 131.09 L821.00 131.70 L821.75 132.31 L822.50 132.90 L823.25 133.50 L824.00 134.08 L824.75 134.65 L825.50 135.21 L826.25 135.76 L827.00 136.30 L827.75 136.83 L828.50 137.34 L829.25 137.83 L830.00 138.30 L830.75 138.76 L831.50 139.19 L832.25 139.61 L833.00 140.00 L833.75 140.37 L834.50 140.71 L835.25 141.03 L836.00 141.32 L836.75 141.58 L837.50 141.81 L838.25 142.01 L839.00 142.18 L839.75 142.32 L840.50 142.42 L841.25 142.49 L842.00 142.52 L842.75 142.51 L843.50 142.46 L844.25 142.38 L845.00 142.26 L845.75 142.10 L846.50 141.91 L847.25 141.69 L848.00 141.43 L848.75 141.15 L849.50 140.84 L850.25 140.50 L851.00 140.14 L851.75 139.75 L852.50 139.34 L853.25 138.91 L854.00 138.46 L854.75 137.99 L855.50 137.50 L856.25 137.00 L857.00 136.49 L857.75 135.96 L858.50 135.43 L859.25 134.88 L860.00 134.32 L860.75 133.76 L861.50 133.20 L862.25 132.63 L863.00 132.05 L863.75 131.48 L864.50 130.91 L865.25 130.34 L866.00 129.77 L866.75 129.21 L867.50 128.65 L868.25 128.10 L869.00 127.56 L869.75 127.03 L870.50 126.52 L871.25 126.01 L872.00 125.52 L872.75 125.05 L873.50 124.60 L874.25 124.16 L875.00 123.75 L875.75 123.35 L876.50 122.99 L877.25 122.64 L878.00 122.32 L878.75 122.03 L879.50 121.77 L880.25 121.54 L881.00 121.34 L881.75 121.18 L882.50 121.05 L883.25 120.96 L884.00 120.90 L884.75 120.89 L885.50 120.91 L886.25 120.98 L887.00 121.08 L887.75 121.23 L888.50 121.42 L889.25 121.65 L890.00 121.92 L890.75 122.23 L891.50 122.58 L892.25 122.96 L893.00 123.39 L893.75 123.86 L894.50 124.36 L895.25 124.90 L896.00 125.48 L896.75 126.10 L897.50 126.76 L898.25 127.45 L899.00 128.18 L899.75 128.94 L900.50 129.74 L901.25 130.58 L902.00 131.45 L902.75 132.36 L903.50 133.31 L904.25 134.29 L905.00 135.30 L905.75 136.35 L906.50 137.43 L907.25 138.54 L908.00 139.69 L908.75 140.87 L909.50 142.08 L910.25 143.32 L911.00 144.57 L911.75 145.83 L912.50 147.09 L913.25 148.36 L914.00 149.63 L914.75 150.88 L915.50 152.12 L916.25 153.34 L917.00 154.53 L917.75 155.69 L918.50 156.82 L919.25 157.92 L920.00 158.98 L920.75 160.03 L921.50 161.05 L922.25 162.05 L923.00 163.04 L923.75 164.01 L924.50 164.99 L925.25 165.95 L926.00 166.92 L926.75 167.89 L927.50 168.87 L928.25 169.86 L929.00 170.87 L929.75 171.89 L930.50 172.94 L931.25 174.01 L932.00 175.11 L932.75 176.24 L933.50 177.41 L933.80 177.89" stroke="#0e6b4b" class="ln"/>
<line x1="935" y1="248.2" x2="945" y2="248.2" stroke="#b8ae10" stroke-width="1.5"/>
<circle cx="55.7" cy="291.3" r="13.5" fill="#fff" stroke="#0e6b4b" stroke-width="2.4"/><text x="55.7" y="298.1" text-anchor="middle" class="lb lo" fill="#0e6b4b" stroke="#0e6b4b" textLength="8.0" lengthAdjust="spacingAndGlyphs">0</text>
<circle cx="51.9" cy="183.8" r="13.5" fill="#fff" stroke="#4a4a4a" stroke-width="2.4"/><text x="51.9" y="190.60000000000002" text-anchor="middle" class="lb lo" fill="#444" stroke="#444" textLength="17.4" lengthAdjust="spacingAndGlyphs">24</text>
<circle cx="51.6" cy="208" r="13.5" fill="#fff" stroke="#5ab8dc" stroke-width="2.4"/><text x="51.6" y="214.8" text-anchor="middle" class="lb lo" fill="#4fb3d3" stroke="#4fb3d3" textLength="17.4" lengthAdjust="spacingAndGlyphs">23</text>
<circle cx="350.9" cy="284.9" r="13.5" fill="#fff" stroke="#d8276f" stroke-width="2.4"/><text x="350.9" y="291.7" text-anchor="middle" class="lb lo" fill="#d8276f" stroke="#d8276f" textLength="8.0" lengthAdjust="spacingAndGlyphs">3</text>
<circle cx="446.9" cy="289.4" r="13.5" fill="#fff" stroke="#4aa577" stroke-width="2.4"/><text x="446.9" y="296.2" text-anchor="middle" class="lb lo" fill="#4aa577" stroke="#4aa577" textLength="8.0" lengthAdjust="spacingAndGlyphs">2</text>
<circle cx="947.3" cy="285.8" r="14.2" fill="#52ad80"/><text x="947.3" y="293.3" text-anchor="middle" class="lb lf" fill="#fff" stroke="#fff" textLength="9.2" lengthAdjust="spacingAndGlyphs">4</text>
<circle cx="953.3" cy="245.8" r="14.2" fill="#d2c80c"/><text x="953.3" y="253.3" text-anchor="middle" class="lb lf" fill="#fff" stroke="#fff" textLength="18.4" lengthAdjust="spacingAndGlyphs">12</text>
<circle cx="941.7" cy="264.4" r="14.2" fill="#6ac3e4"/><text x="941.7" y="271.9" text-anchor="middle" class="lb lf" fill="#fff" stroke="#fff" textLength="9.2" lengthAdjust="spacingAndGlyphs">8</text>
<circle cx="949.5" cy="221.8" r="14.2" fill="#e4338a"/><text x="949.5" y="229.3" text-anchor="middle" class="lb lf" fill="#fff" stroke="#fff" textLength="18.4" lengthAdjust="spacingAndGlyphs">16</text>
<circle cx="945" cy="198.3" r="14.2" fill="#9c9c9c"/><text x="945" y="205.8" text-anchor="middle" class="lb lf" fill="#fff" stroke="#fff" textLength="18.4" lengthAdjust="spacingAndGlyphs">23</text>
<circle cx="945" cy="173" r="14.2" fill="#118056"/><text x="945" y="180.5" text-anchor="middle" class="lb lf" fill="#fff" stroke="#fff" textLength="18.4" lengthAdjust="spacingAndGlyphs">26</text>
<line x1="198.5" y1="365" x2="221.5" y2="365" stroke="#118056" stroke-width="5" stroke-linecap="round"/>
<text x="244" y="370.6" class="lg" textLength="106.0" lengthAdjust="spacingAndGlyphs">TELMEX/CLARO</text>
<line x1="394.0" y1="365" x2="416.5" y2="365" stroke="#6a6a6a" stroke-width="5" stroke-linecap="round"/>
<text x="438.8" y="370.6" class="lg" textLength="164.9" lengthAdjust="spacingAndGlyphs">NO RECUERDA NINGUNA</text>
<line x1="647.5" y1="365" x2="669.5" y2="365" stroke="#5ab8dc" stroke-width="5" stroke-linecap="round"/>
<text x="692.5" y="370.6" class="lg" textLength="140.5" lengthAdjust="spacingAndGlyphs">ETB (07/007 MUNDO)</text>
<line x1="305.5" y1="390.5" x2="328.1" y2="390.5" stroke="#52ad80" stroke-width="5" stroke-linecap="round"/>
<text x="351" y="396.1" class="lg" textLength="66.9" lengthAdjust="spacingAndGlyphs">TIGO/OLA</text>
<line x1="462.2" y1="390.5" x2="484.8" y2="390.5" stroke="#e2388a" stroke-width="5" stroke-linecap="round"/>
<text x="507.2" y="396.1" class="lg" textLength="71.5" lengthAdjust="spacingAndGlyphs">MOVISTAR</text>
<line x1="619.5" y1="390.5" x2="642.0" y2="390.5" stroke="#d2c80c" stroke-width="5" stroke-linecap="round"/>
<text x="668" y="396.1" class="lg" textLength="59.5" lengthAdjust="spacingAndGlyphs">DIRECTV</text>
</svg>
</body></html>
